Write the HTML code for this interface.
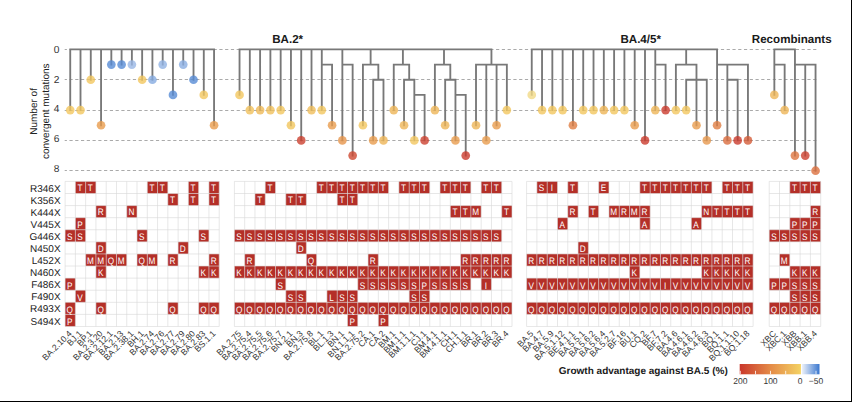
<!DOCTYPE html>
<html><head><meta charset="utf-8"><style>
html,body{margin:0;padding:0;background:#fff;}
body{width:852px;height:402px;overflow:hidden;}
svg{display:block;font-family:"Liberation Sans", sans-serif;text-rendering:geometricPrecision;}
</style></head><body>
<svg width="852" height="402" viewBox="0 0 852 402">
<rect x="0" y="0" width="852" height="402" fill="#fff"/>
<line x1="64.7" y1="49.5" x2="816.6" y2="49.5" stroke="#aaaaaa" stroke-width="1" stroke-dasharray="3.2 2.565" stroke-dashoffset="1"/>
<line x1="64.7" y1="79.5" x2="816.6" y2="79.5" stroke="#aaaaaa" stroke-width="1" stroke-dasharray="3.2 2.565" stroke-dashoffset="1"/>
<line x1="64.7" y1="110.5" x2="816.6" y2="110.5" stroke="#aaaaaa" stroke-width="1" stroke-dasharray="3.2 2.565" stroke-dashoffset="1"/>
<line x1="64.7" y1="140.5" x2="816.6" y2="140.5" stroke="#aaaaaa" stroke-width="1" stroke-dasharray="3.2 2.565" stroke-dashoffset="1"/>
<line x1="64.7" y1="170.5" x2="816.6" y2="170.5" stroke="#aaaaaa" stroke-width="1" stroke-dasharray="3.2 2.565" stroke-dashoffset="1"/>
<text x="59.4" y="53.05" font-size="10.2" text-anchor="end" fill="#333">0</text>
<text x="59.4" y="82.69" font-size="10.2" text-anchor="end" fill="#333">2</text>
<text x="59.4" y="112.33" font-size="10.2" text-anchor="end" fill="#333">4</text>
<text x="59.4" y="141.97" font-size="10.2" text-anchor="end" fill="#333">6</text>
<text x="59.4" y="171.61" font-size="10.2" text-anchor="end" fill="#333">8</text>
<text transform="translate(37.2,111.4) rotate(-90)" font-size="10" text-anchor="middle" fill="#222">Number of</text>
<text transform="translate(48.5,111.2) rotate(-90)" font-size="10" text-anchor="middle" fill="#222">convergent mutations</text>
<text x="272.2" y="42.6" font-size="11.6" font-weight="bold" fill="#1a1a1a">BA.2*</text>
<text x="620.4" y="42.6" font-size="11.6" font-weight="bold" fill="#1a1a1a">BA.4/5*</text>
<text x="751.8" y="42.6" font-size="11.6" font-weight="bold" fill="#1a1a1a">Recombinants</text>
<path d="M70.24 49.44L214.06 49.44M70.24 49.44L70.24 110.08M80.51 49.44L80.51 110.08M90.78 49.44L90.78 79.76M101.06 49.44L101.06 125.24M111.33 49.44L111.33 64.60M121.60 49.44L121.60 64.60M131.88 49.44L131.88 64.60M142.15 49.44L142.15 79.76M152.42 49.44L152.42 79.76M162.70 49.44L162.70 64.60M172.97 49.44L172.97 94.92M183.24 49.44L183.24 64.60M193.52 49.44L193.52 79.76M203.79 49.44L203.79 94.92M214.06 49.44L214.06 125.24M239.54 49.44L491.44 49.44M239.54 49.44L239.54 94.92M249.82 49.44L249.82 110.08M260.10 49.44L260.10 110.08M270.39 49.44L270.39 110.08M280.67 49.44L280.67 110.08M290.95 49.44L290.95 125.24M301.23 49.44L301.23 140.40M311.51 49.44L311.51 110.08M321.79 49.44L321.79 110.08M321.79 64.60L332.07 64.60M332.07 64.60L332.07 125.24M342.36 49.44L342.36 140.40M342.36 64.60L352.64 64.60M352.64 64.60L352.64 155.56M370.63 49.44L370.63 64.60M362.92 64.60L378.34 64.60M362.92 64.60L362.92 125.24M378.34 64.60L378.34 79.76M373.20 79.76L383.48 79.76M373.20 79.76L373.20 140.40M383.48 79.76L383.48 140.40M402.90 49.44L402.90 64.60M393.76 64.60L409.19 64.60M393.76 64.60L393.76 110.08M409.19 64.60L409.19 79.76M404.04 79.76L414.33 79.76M404.04 79.76L404.04 125.24M414.33 79.76L414.33 140.40M414.33 94.92L424.61 94.92M424.61 94.92L424.61 140.40M444.00 49.44L444.00 64.60M434.89 64.60L450.31 64.60M434.89 64.60L434.89 110.08M450.31 64.60L450.31 79.76M445.17 79.76L455.45 79.76M445.17 79.76L445.17 125.24M455.45 79.76L455.45 140.40M455.45 94.92L465.73 94.92M465.73 94.92L465.73 155.56M491.44 49.44L491.44 64.60M476.01 64.60L506.86 64.60M476.01 64.60L476.01 125.24M486.30 64.60L486.30 140.40M496.58 64.60L496.58 125.24M506.86 64.60L506.86 110.08M531.75 49.44L717.07 49.44M531.75 49.44L531.75 94.92M542.04 49.44L542.04 110.08M552.34 49.44L552.34 110.08M562.63 49.44L562.63 110.08M572.93 49.44L572.93 125.24M583.23 49.44L583.23 110.08M593.52 49.44L593.52 110.08M603.82 49.44L603.82 110.08M614.11 49.44L614.11 110.08M624.41 49.44L624.41 110.08M634.70 49.44L634.70 125.24M645.00 49.44L645.00 140.40M655.29 49.44L655.29 110.08M655.29 64.60L665.59 64.60M665.59 64.60L665.59 110.08M686.18 49.44L686.18 64.60M675.88 64.60L696.48 64.60M675.88 64.60L675.88 110.08M696.48 64.60L696.48 125.24M686.18 79.76L706.77 79.76M686.18 79.76L686.18 110.08M706.77 79.76L706.77 140.40M717.07 49.44L717.07 125.24M717.07 64.60L747.95 64.60M727.36 64.60L727.36 140.40M727.36 79.76L737.66 79.76M737.66 79.76L737.66 140.40M747.95 64.60L747.95 140.40M774.35 49.44L794.95 49.44M774.35 49.44L774.35 94.92M774.35 64.60L784.65 64.60M784.65 64.60L784.65 110.08M794.95 49.44L794.95 155.56M794.95 64.60L815.55 64.60M805.25 64.60L805.25 155.56M815.55 64.60L815.55 170.72" stroke="#787878" stroke-width="1.85" fill="none" stroke-linecap="square"/>
<circle cx="70.24" cy="110.08" r="4.35" fill="#f2c75f" fill-opacity="0.8"/>
<circle cx="80.51" cy="110.08" r="4.35" fill="#f2c75f" fill-opacity="0.8"/>
<circle cx="90.78" cy="79.76" r="4.35" fill="#f2c75f" fill-opacity="0.8"/>
<circle cx="101.06" cy="125.24" r="4.35" fill="#e89c4e" fill-opacity="0.8"/>
<circle cx="111.33" cy="64.60" r="4.35" fill="#588cd6" fill-opacity="0.8"/>
<circle cx="121.60" cy="64.60" r="4.35" fill="#588cd6" fill-opacity="0.8"/>
<circle cx="131.88" cy="64.60" r="4.35" fill="#98b7e5" fill-opacity="0.8"/>
<circle cx="142.15" cy="79.76" r="4.35" fill="#f2c75f" fill-opacity="0.8"/>
<circle cx="152.42" cy="79.76" r="4.35" fill="#86abe1" fill-opacity="0.8"/>
<circle cx="162.70" cy="64.60" r="4.35" fill="#91b3e4" fill-opacity="0.8"/>
<circle cx="172.97" cy="94.92" r="4.35" fill="#588cd6" fill-opacity="0.8"/>
<circle cx="183.24" cy="64.60" r="4.35" fill="#8aaee2" fill-opacity="0.8"/>
<circle cx="193.52" cy="79.76" r="4.35" fill="#588cd6" fill-opacity="0.8"/>
<circle cx="203.79" cy="94.92" r="4.35" fill="#f2c75f" fill-opacity="0.8"/>
<circle cx="214.06" cy="125.24" r="4.35" fill="#e89c4e" fill-opacity="0.8"/>
<circle cx="239.54" cy="94.92" r="4.35" fill="#f2c75f" fill-opacity="0.8"/>
<circle cx="249.82" cy="110.08" r="4.35" fill="#f0c05c" fill-opacity="0.8"/>
<circle cx="260.10" cy="110.08" r="4.35" fill="#eeb959" fill-opacity="0.8"/>
<circle cx="270.39" cy="110.08" r="4.35" fill="#f0c05c" fill-opacity="0.8"/>
<circle cx="280.67" cy="110.08" r="4.35" fill="#f2c75f" fill-opacity="0.8"/>
<circle cx="290.95" cy="125.24" r="4.35" fill="#f1c55e" fill-opacity="0.8"/>
<circle cx="301.23" cy="140.40" r="4.35" fill="#cc412f" fill-opacity="0.8"/>
<circle cx="311.51" cy="110.08" r="4.35" fill="#f0be5b" fill-opacity="0.8"/>
<circle cx="321.79" cy="110.08" r="4.35" fill="#f2c75f" fill-opacity="0.8"/>
<circle cx="332.07" cy="125.24" r="4.35" fill="#e89c4e" fill-opacity="0.8"/>
<circle cx="342.36" cy="140.40" r="4.35" fill="#e6954b" fill-opacity="0.8"/>
<circle cx="352.64" cy="155.56" r="4.35" fill="#ce4831" fill-opacity="0.8"/>
<circle cx="362.92" cy="125.24" r="4.35" fill="#f2c75f" fill-opacity="0.8"/>
<circle cx="373.20" cy="140.40" r="4.35" fill="#e89c4e" fill-opacity="0.8"/>
<circle cx="383.48" cy="140.40" r="4.35" fill="#eeb558" fill-opacity="0.8"/>
<circle cx="393.76" cy="110.08" r="4.35" fill="#eeb558" fill-opacity="0.8"/>
<circle cx="404.04" cy="125.24" r="4.35" fill="#eeb558" fill-opacity="0.8"/>
<circle cx="414.33" cy="140.40" r="4.35" fill="#f2c75f" fill-opacity="0.8"/>
<circle cx="424.61" cy="140.40" r="4.35" fill="#cc412f" fill-opacity="0.8"/>
<circle cx="434.89" cy="110.08" r="4.35" fill="#eeb558" fill-opacity="0.8"/>
<circle cx="445.17" cy="125.24" r="4.35" fill="#eeb558" fill-opacity="0.8"/>
<circle cx="455.45" cy="140.40" r="4.35" fill="#e89c4e" fill-opacity="0.8"/>
<circle cx="465.73" cy="155.56" r="4.35" fill="#ca3b2d" fill-opacity="0.8"/>
<circle cx="476.01" cy="125.24" r="4.35" fill="#eeb558" fill-opacity="0.8"/>
<circle cx="486.30" cy="140.40" r="4.35" fill="#e89c4e" fill-opacity="0.8"/>
<circle cx="496.58" cy="125.24" r="4.35" fill="#e89c4e" fill-opacity="0.8"/>
<circle cx="506.86" cy="110.08" r="4.35" fill="#f2c75f" fill-opacity="0.8"/>
<circle cx="531.75" cy="94.92" r="4.35" fill="#f1d987" fill-opacity="0.8"/>
<circle cx="542.04" cy="110.08" r="4.35" fill="#f2c75f" fill-opacity="0.8"/>
<circle cx="552.34" cy="110.08" r="4.35" fill="#f2c75f" fill-opacity="0.8"/>
<circle cx="562.63" cy="110.08" r="4.35" fill="#f2c75f" fill-opacity="0.8"/>
<circle cx="572.93" cy="125.24" r="4.35" fill="#e07e43" fill-opacity="0.8"/>
<circle cx="583.23" cy="110.08" r="4.35" fill="#f2c75f" fill-opacity="0.8"/>
<circle cx="593.52" cy="110.08" r="4.35" fill="#f2c75f" fill-opacity="0.8"/>
<circle cx="603.82" cy="110.08" r="4.35" fill="#eeb558" fill-opacity="0.8"/>
<circle cx="614.11" cy="110.08" r="4.35" fill="#f2c75f" fill-opacity="0.8"/>
<circle cx="624.41" cy="110.08" r="4.35" fill="#f2c75f" fill-opacity="0.8"/>
<circle cx="634.70" cy="125.24" r="4.35" fill="#e89c4e" fill-opacity="0.8"/>
<circle cx="645.00" cy="140.40" r="4.35" fill="#ca3b2d" fill-opacity="0.8"/>
<circle cx="655.29" cy="110.08" r="4.35" fill="#eeb558" fill-opacity="0.8"/>
<circle cx="665.59" cy="110.08" r="4.35" fill="#ca3b2d" fill-opacity="0.8"/>
<circle cx="675.88" cy="110.08" r="4.35" fill="#f2c75f" fill-opacity="0.8"/>
<circle cx="686.18" cy="110.08" r="4.35" fill="#f2c75f" fill-opacity="0.8"/>
<circle cx="696.48" cy="125.24" r="4.35" fill="#e89c4e" fill-opacity="0.8"/>
<circle cx="706.77" cy="140.40" r="4.35" fill="#e7984d" fill-opacity="0.8"/>
<circle cx="717.07" cy="125.24" r="4.35" fill="#e07e43" fill-opacity="0.8"/>
<circle cx="727.36" cy="140.40" r="4.35" fill="#db6d3e" fill-opacity="0.8"/>
<circle cx="737.66" cy="140.40" r="4.35" fill="#ca3b2d" fill-opacity="0.8"/>
<circle cx="747.95" cy="140.40" r="4.35" fill="#d55c38" fill-opacity="0.8"/>
<circle cx="774.35" cy="94.92" r="4.35" fill="#eeb558" fill-opacity="0.8"/>
<circle cx="784.65" cy="110.08" r="4.35" fill="#eeb558" fill-opacity="0.8"/>
<circle cx="794.95" cy="155.56" r="4.35" fill="#dd7540" fill-opacity="0.8"/>
<circle cx="805.25" cy="155.56" r="4.35" fill="#cc412f" fill-opacity="0.8"/>
<circle cx="815.55" cy="170.72" r="4.35" fill="#dc713f" fill-opacity="0.8"/>
<rect x="75.37" y="181.40" width="10.27" height="12.09" fill="#b42f28"/>
<rect x="85.65" y="181.40" width="10.27" height="12.09" fill="#b42f28"/>
<rect x="147.29" y="181.40" width="10.27" height="12.09" fill="#b42f28"/>
<rect x="157.56" y="181.40" width="10.27" height="12.09" fill="#b42f28"/>
<rect x="188.38" y="181.40" width="10.27" height="12.09" fill="#b42f28"/>
<rect x="208.93" y="181.40" width="10.27" height="12.09" fill="#b42f28"/>
<rect x="167.83" y="193.49" width="10.27" height="12.09" fill="#b42f28"/>
<rect x="188.38" y="193.49" width="10.27" height="12.09" fill="#b42f28"/>
<rect x="208.93" y="193.49" width="10.27" height="12.09" fill="#b42f28"/>
<rect x="95.92" y="205.58" width="10.27" height="12.09" fill="#b42f28"/>
<rect x="126.74" y="205.58" width="10.27" height="12.09" fill="#b42f28"/>
<rect x="75.37" y="217.67" width="10.27" height="12.09" fill="#b42f28"/>
<rect x="65.10" y="229.76" width="10.27" height="12.09" fill="#b42f28"/>
<rect x="75.37" y="229.76" width="10.27" height="12.09" fill="#b42f28"/>
<rect x="137.01" y="229.76" width="10.27" height="12.09" fill="#b42f28"/>
<rect x="198.65" y="229.76" width="10.27" height="12.09" fill="#b42f28"/>
<rect x="95.92" y="241.85" width="10.27" height="12.09" fill="#b42f28"/>
<rect x="178.11" y="241.85" width="10.27" height="12.09" fill="#b42f28"/>
<rect x="85.65" y="253.94" width="10.27" height="12.09" fill="#b42f28"/>
<rect x="95.92" y="253.94" width="10.27" height="12.09" fill="#b42f28"/>
<rect x="106.19" y="253.94" width="10.27" height="12.09" fill="#b42f28"/>
<rect x="116.47" y="253.94" width="10.27" height="12.09" fill="#b42f28"/>
<rect x="137.01" y="253.94" width="10.27" height="12.09" fill="#b42f28"/>
<rect x="147.29" y="253.94" width="10.27" height="12.09" fill="#b42f28"/>
<rect x="167.83" y="253.94" width="10.27" height="12.09" fill="#b42f28"/>
<rect x="208.93" y="253.94" width="10.27" height="12.09" fill="#b42f28"/>
<rect x="95.92" y="266.03" width="10.27" height="12.09" fill="#b42f28"/>
<rect x="198.65" y="266.03" width="10.27" height="12.09" fill="#b42f28"/>
<rect x="208.93" y="266.03" width="10.27" height="12.09" fill="#b42f28"/>
<rect x="65.10" y="278.12" width="10.27" height="12.09" fill="#b42f28"/>
<rect x="75.37" y="290.21" width="10.27" height="12.09" fill="#b42f28"/>
<rect x="65.10" y="302.30" width="10.27" height="12.09" fill="#b42f28"/>
<rect x="95.92" y="302.30" width="10.27" height="12.09" fill="#b42f28"/>
<rect x="167.83" y="302.30" width="10.27" height="12.09" fill="#b42f28"/>
<rect x="198.65" y="302.30" width="10.27" height="12.09" fill="#b42f28"/>
<rect x="208.93" y="302.30" width="10.27" height="12.09" fill="#b42f28"/>
<rect x="65.10" y="314.39" width="10.27" height="12.09" fill="#b42f28"/>
<path d="M65.10 181.40V326.48M75.37 181.40V326.48M85.65 181.40V326.48M95.92 181.40V326.48M106.19 181.40V326.48M116.47 181.40V326.48M126.74 181.40V326.48M137.01 181.40V326.48M147.29 181.40V326.48M157.56 181.40V326.48M167.83 181.40V326.48M178.11 181.40V326.48M188.38 181.40V326.48M198.65 181.40V326.48M208.93 181.40V326.48M219.20 181.40V326.48M65.10 181.40H219.20M65.10 193.49H219.20M65.10 205.58H219.20M65.10 217.67H219.20M65.10 229.76H219.20M65.10 241.85H219.20M65.10 253.94H219.20M65.10 266.03H219.20M65.10 278.12H219.20M65.10 290.21H219.20M65.10 302.30H219.20M65.10 314.39H219.20M65.10 326.48H219.20" stroke="#d6d6d6" stroke-opacity="0.75" stroke-width="0.8" fill="none"/>
<text transform="translate(80.06,190.90) scale(0.87,1)" font-size="9.45" text-anchor="middle" fill="#fff">T</text>
<text transform="translate(90.33,190.90) scale(0.87,1)" font-size="9.45" text-anchor="middle" fill="#fff">T</text>
<text transform="translate(151.97,190.90) scale(0.87,1)" font-size="9.45" text-anchor="middle" fill="#fff">T</text>
<text transform="translate(162.25,190.90) scale(0.87,1)" font-size="9.45" text-anchor="middle" fill="#fff">T</text>
<text transform="translate(193.07,190.90) scale(0.87,1)" font-size="9.45" text-anchor="middle" fill="#fff">T</text>
<text transform="translate(213.61,190.90) scale(0.87,1)" font-size="9.45" text-anchor="middle" fill="#fff">T</text>
<text transform="translate(172.52,203.12) scale(0.87,1)" font-size="9.45" text-anchor="middle" fill="#fff">T</text>
<text transform="translate(193.07,203.12) scale(0.87,1)" font-size="9.45" text-anchor="middle" fill="#fff">T</text>
<text transform="translate(213.61,203.12) scale(0.87,1)" font-size="9.45" text-anchor="middle" fill="#fff">T</text>
<text transform="translate(100.61,215.34) scale(0.87,1)" font-size="9.45" text-anchor="middle" fill="#fff">R</text>
<text transform="translate(131.43,215.34) scale(0.87,1)" font-size="9.45" text-anchor="middle" fill="#fff">N</text>
<text transform="translate(80.06,227.56) scale(0.87,1)" font-size="9.45" text-anchor="middle" fill="#fff">P</text>
<text transform="translate(69.79,239.78) scale(0.87,1)" font-size="9.45" text-anchor="middle" fill="#fff">S</text>
<text transform="translate(80.06,239.78) scale(0.87,1)" font-size="9.45" text-anchor="middle" fill="#fff">S</text>
<text transform="translate(141.70,239.78) scale(0.87,1)" font-size="9.45" text-anchor="middle" fill="#fff">S</text>
<text transform="translate(203.34,239.78) scale(0.87,1)" font-size="9.45" text-anchor="middle" fill="#fff">S</text>
<text transform="translate(100.61,252.00) scale(0.87,1)" font-size="9.45" text-anchor="middle" fill="#fff">D</text>
<text transform="translate(182.79,252.00) scale(0.87,1)" font-size="9.45" text-anchor="middle" fill="#fff">D</text>
<text transform="translate(90.33,264.22) scale(0.87,1)" font-size="9.45" text-anchor="middle" fill="#fff">M</text>
<text transform="translate(100.61,264.22) scale(0.87,1)" font-size="9.45" text-anchor="middle" fill="#fff">M</text>
<text transform="translate(110.88,264.22) scale(0.87,1)" font-size="9.45" text-anchor="middle" fill="#fff">Q</text>
<text transform="translate(121.15,264.22) scale(0.87,1)" font-size="9.45" text-anchor="middle" fill="#fff">M</text>
<text transform="translate(141.70,264.22) scale(0.87,1)" font-size="9.45" text-anchor="middle" fill="#fff">Q</text>
<text transform="translate(151.97,264.22) scale(0.87,1)" font-size="9.45" text-anchor="middle" fill="#fff">M</text>
<text transform="translate(172.52,264.22) scale(0.87,1)" font-size="9.45" text-anchor="middle" fill="#fff">R</text>
<text transform="translate(213.61,264.22) scale(0.87,1)" font-size="9.45" text-anchor="middle" fill="#fff">R</text>
<text transform="translate(100.61,276.44) scale(0.87,1)" font-size="9.45" text-anchor="middle" fill="#fff">K</text>
<text transform="translate(203.34,276.44) scale(0.87,1)" font-size="9.45" text-anchor="middle" fill="#fff">K</text>
<text transform="translate(213.61,276.44) scale(0.87,1)" font-size="9.45" text-anchor="middle" fill="#fff">K</text>
<text transform="translate(69.79,288.66) scale(0.87,1)" font-size="9.45" text-anchor="middle" fill="#fff">P</text>
<text transform="translate(80.06,300.88) scale(0.87,1)" font-size="9.45" text-anchor="middle" fill="#fff">V</text>
<text transform="translate(69.79,313.10) scale(0.87,1)" font-size="9.45" text-anchor="middle" fill="#fff">Q</text>
<text transform="translate(100.61,313.10) scale(0.87,1)" font-size="9.45" text-anchor="middle" fill="#fff">Q</text>
<text transform="translate(172.52,313.10) scale(0.87,1)" font-size="9.45" text-anchor="middle" fill="#fff">Q</text>
<text transform="translate(203.34,313.10) scale(0.87,1)" font-size="9.45" text-anchor="middle" fill="#fff">Q</text>
<text transform="translate(213.61,313.10) scale(0.87,1)" font-size="9.45" text-anchor="middle" fill="#fff">Q</text>
<text transform="translate(69.79,325.32) scale(0.87,1)" font-size="9.45" text-anchor="middle" fill="#fff">P</text>
<rect x="265.24" y="181.40" width="10.28" height="12.09" fill="#b42f28"/>
<rect x="316.65" y="181.40" width="10.28" height="12.09" fill="#b42f28"/>
<rect x="326.93" y="181.40" width="10.28" height="12.09" fill="#b42f28"/>
<rect x="337.21" y="181.40" width="10.28" height="12.09" fill="#b42f28"/>
<rect x="347.50" y="181.40" width="10.28" height="12.09" fill="#b42f28"/>
<rect x="357.78" y="181.40" width="10.28" height="12.09" fill="#b42f28"/>
<rect x="368.06" y="181.40" width="10.28" height="12.09" fill="#b42f28"/>
<rect x="378.34" y="181.40" width="10.28" height="12.09" fill="#b42f28"/>
<rect x="398.90" y="181.40" width="10.28" height="12.09" fill="#b42f28"/>
<rect x="409.19" y="181.40" width="10.28" height="12.09" fill="#b42f28"/>
<rect x="419.47" y="181.40" width="10.28" height="12.09" fill="#b42f28"/>
<rect x="440.03" y="181.40" width="10.28" height="12.09" fill="#b42f28"/>
<rect x="450.31" y="181.40" width="10.28" height="12.09" fill="#b42f28"/>
<rect x="460.59" y="181.40" width="10.28" height="12.09" fill="#b42f28"/>
<rect x="481.16" y="181.40" width="10.28" height="12.09" fill="#b42f28"/>
<rect x="491.44" y="181.40" width="10.28" height="12.09" fill="#b42f28"/>
<rect x="254.96" y="193.49" width="10.28" height="12.09" fill="#b42f28"/>
<rect x="285.81" y="193.49" width="10.28" height="12.09" fill="#b42f28"/>
<rect x="296.09" y="193.49" width="10.28" height="12.09" fill="#b42f28"/>
<rect x="337.21" y="193.49" width="10.28" height="12.09" fill="#b42f28"/>
<rect x="347.50" y="193.49" width="10.28" height="12.09" fill="#b42f28"/>
<rect x="450.31" y="205.58" width="10.28" height="12.09" fill="#b42f28"/>
<rect x="460.59" y="205.58" width="10.28" height="12.09" fill="#b42f28"/>
<rect x="470.87" y="205.58" width="10.28" height="12.09" fill="#b42f28"/>
<rect x="501.72" y="205.58" width="10.28" height="12.09" fill="#b42f28"/>
<rect x="234.40" y="229.76" width="10.28" height="12.09" fill="#b42f28"/>
<rect x="244.68" y="229.76" width="10.28" height="12.09" fill="#b42f28"/>
<rect x="254.96" y="229.76" width="10.28" height="12.09" fill="#b42f28"/>
<rect x="265.24" y="229.76" width="10.28" height="12.09" fill="#b42f28"/>
<rect x="275.53" y="229.76" width="10.28" height="12.09" fill="#b42f28"/>
<rect x="285.81" y="229.76" width="10.28" height="12.09" fill="#b42f28"/>
<rect x="296.09" y="229.76" width="10.28" height="12.09" fill="#b42f28"/>
<rect x="306.37" y="229.76" width="10.28" height="12.09" fill="#b42f28"/>
<rect x="316.65" y="229.76" width="10.28" height="12.09" fill="#b42f28"/>
<rect x="326.93" y="229.76" width="10.28" height="12.09" fill="#b42f28"/>
<rect x="337.21" y="229.76" width="10.28" height="12.09" fill="#b42f28"/>
<rect x="347.50" y="229.76" width="10.28" height="12.09" fill="#b42f28"/>
<rect x="357.78" y="229.76" width="10.28" height="12.09" fill="#b42f28"/>
<rect x="368.06" y="229.76" width="10.28" height="12.09" fill="#b42f28"/>
<rect x="378.34" y="229.76" width="10.28" height="12.09" fill="#b42f28"/>
<rect x="388.62" y="229.76" width="10.28" height="12.09" fill="#b42f28"/>
<rect x="398.90" y="229.76" width="10.28" height="12.09" fill="#b42f28"/>
<rect x="409.19" y="229.76" width="10.28" height="12.09" fill="#b42f28"/>
<rect x="419.47" y="229.76" width="10.28" height="12.09" fill="#b42f28"/>
<rect x="429.75" y="229.76" width="10.28" height="12.09" fill="#b42f28"/>
<rect x="440.03" y="229.76" width="10.28" height="12.09" fill="#b42f28"/>
<rect x="450.31" y="229.76" width="10.28" height="12.09" fill="#b42f28"/>
<rect x="460.59" y="229.76" width="10.28" height="12.09" fill="#b42f28"/>
<rect x="470.87" y="229.76" width="10.28" height="12.09" fill="#b42f28"/>
<rect x="481.16" y="229.76" width="10.28" height="12.09" fill="#b42f28"/>
<rect x="491.44" y="229.76" width="10.28" height="12.09" fill="#b42f28"/>
<rect x="296.09" y="241.85" width="10.28" height="12.09" fill="#b42f28"/>
<rect x="244.68" y="253.94" width="10.28" height="12.09" fill="#b42f28"/>
<rect x="306.37" y="253.94" width="10.28" height="12.09" fill="#b42f28"/>
<rect x="368.06" y="253.94" width="10.28" height="12.09" fill="#b42f28"/>
<rect x="460.59" y="253.94" width="10.28" height="12.09" fill="#b42f28"/>
<rect x="470.87" y="253.94" width="10.28" height="12.09" fill="#b42f28"/>
<rect x="481.16" y="253.94" width="10.28" height="12.09" fill="#b42f28"/>
<rect x="491.44" y="253.94" width="10.28" height="12.09" fill="#b42f28"/>
<rect x="501.72" y="253.94" width="10.28" height="12.09" fill="#b42f28"/>
<rect x="234.40" y="266.03" width="10.28" height="12.09" fill="#b42f28"/>
<rect x="244.68" y="266.03" width="10.28" height="12.09" fill="#b42f28"/>
<rect x="254.96" y="266.03" width="10.28" height="12.09" fill="#b42f28"/>
<rect x="265.24" y="266.03" width="10.28" height="12.09" fill="#b42f28"/>
<rect x="275.53" y="266.03" width="10.28" height="12.09" fill="#b42f28"/>
<rect x="285.81" y="266.03" width="10.28" height="12.09" fill="#b42f28"/>
<rect x="296.09" y="266.03" width="10.28" height="12.09" fill="#b42f28"/>
<rect x="306.37" y="266.03" width="10.28" height="12.09" fill="#b42f28"/>
<rect x="316.65" y="266.03" width="10.28" height="12.09" fill="#b42f28"/>
<rect x="326.93" y="266.03" width="10.28" height="12.09" fill="#b42f28"/>
<rect x="337.21" y="266.03" width="10.28" height="12.09" fill="#b42f28"/>
<rect x="347.50" y="266.03" width="10.28" height="12.09" fill="#b42f28"/>
<rect x="357.78" y="266.03" width="10.28" height="12.09" fill="#b42f28"/>
<rect x="368.06" y="266.03" width="10.28" height="12.09" fill="#b42f28"/>
<rect x="378.34" y="266.03" width="10.28" height="12.09" fill="#b42f28"/>
<rect x="388.62" y="266.03" width="10.28" height="12.09" fill="#b42f28"/>
<rect x="398.90" y="266.03" width="10.28" height="12.09" fill="#b42f28"/>
<rect x="409.19" y="266.03" width="10.28" height="12.09" fill="#b42f28"/>
<rect x="419.47" y="266.03" width="10.28" height="12.09" fill="#b42f28"/>
<rect x="429.75" y="266.03" width="10.28" height="12.09" fill="#b42f28"/>
<rect x="440.03" y="266.03" width="10.28" height="12.09" fill="#b42f28"/>
<rect x="450.31" y="266.03" width="10.28" height="12.09" fill="#b42f28"/>
<rect x="460.59" y="266.03" width="10.28" height="12.09" fill="#b42f28"/>
<rect x="470.87" y="266.03" width="10.28" height="12.09" fill="#b42f28"/>
<rect x="481.16" y="266.03" width="10.28" height="12.09" fill="#b42f28"/>
<rect x="491.44" y="266.03" width="10.28" height="12.09" fill="#b42f28"/>
<rect x="501.72" y="266.03" width="10.28" height="12.09" fill="#b42f28"/>
<rect x="275.53" y="278.12" width="10.28" height="12.09" fill="#b42f28"/>
<rect x="357.78" y="278.12" width="10.28" height="12.09" fill="#b42f28"/>
<rect x="368.06" y="278.12" width="10.28" height="12.09" fill="#b42f28"/>
<rect x="378.34" y="278.12" width="10.28" height="12.09" fill="#b42f28"/>
<rect x="388.62" y="278.12" width="10.28" height="12.09" fill="#b42f28"/>
<rect x="398.90" y="278.12" width="10.28" height="12.09" fill="#b42f28"/>
<rect x="409.19" y="278.12" width="10.28" height="12.09" fill="#b42f28"/>
<rect x="429.75" y="278.12" width="10.28" height="12.09" fill="#b42f28"/>
<rect x="440.03" y="278.12" width="10.28" height="12.09" fill="#b42f28"/>
<rect x="450.31" y="278.12" width="10.28" height="12.09" fill="#b42f28"/>
<rect x="460.59" y="278.12" width="10.28" height="12.09" fill="#b42f28"/>
<rect x="419.47" y="278.12" width="10.28" height="12.09" fill="#b42f28"/>
<rect x="481.16" y="278.12" width="10.28" height="12.09" fill="#b42f28"/>
<rect x="285.81" y="290.21" width="10.28" height="12.09" fill="#b42f28"/>
<rect x="296.09" y="290.21" width="10.28" height="12.09" fill="#b42f28"/>
<rect x="326.93" y="290.21" width="10.28" height="12.09" fill="#b42f28"/>
<rect x="337.21" y="290.21" width="10.28" height="12.09" fill="#b42f28"/>
<rect x="347.50" y="290.21" width="10.28" height="12.09" fill="#b42f28"/>
<rect x="409.19" y="290.21" width="10.28" height="12.09" fill="#b42f28"/>
<rect x="419.47" y="290.21" width="10.28" height="12.09" fill="#b42f28"/>
<rect x="234.40" y="302.30" width="10.28" height="12.09" fill="#b42f28"/>
<rect x="244.68" y="302.30" width="10.28" height="12.09" fill="#b42f28"/>
<rect x="254.96" y="302.30" width="10.28" height="12.09" fill="#b42f28"/>
<rect x="265.24" y="302.30" width="10.28" height="12.09" fill="#b42f28"/>
<rect x="275.53" y="302.30" width="10.28" height="12.09" fill="#b42f28"/>
<rect x="285.81" y="302.30" width="10.28" height="12.09" fill="#b42f28"/>
<rect x="296.09" y="302.30" width="10.28" height="12.09" fill="#b42f28"/>
<rect x="306.37" y="302.30" width="10.28" height="12.09" fill="#b42f28"/>
<rect x="316.65" y="302.30" width="10.28" height="12.09" fill="#b42f28"/>
<rect x="326.93" y="302.30" width="10.28" height="12.09" fill="#b42f28"/>
<rect x="337.21" y="302.30" width="10.28" height="12.09" fill="#b42f28"/>
<rect x="347.50" y="302.30" width="10.28" height="12.09" fill="#b42f28"/>
<rect x="357.78" y="302.30" width="10.28" height="12.09" fill="#b42f28"/>
<rect x="368.06" y="302.30" width="10.28" height="12.09" fill="#b42f28"/>
<rect x="378.34" y="302.30" width="10.28" height="12.09" fill="#b42f28"/>
<rect x="388.62" y="302.30" width="10.28" height="12.09" fill="#b42f28"/>
<rect x="398.90" y="302.30" width="10.28" height="12.09" fill="#b42f28"/>
<rect x="409.19" y="302.30" width="10.28" height="12.09" fill="#b42f28"/>
<rect x="419.47" y="302.30" width="10.28" height="12.09" fill="#b42f28"/>
<rect x="429.75" y="302.30" width="10.28" height="12.09" fill="#b42f28"/>
<rect x="440.03" y="302.30" width="10.28" height="12.09" fill="#b42f28"/>
<rect x="450.31" y="302.30" width="10.28" height="12.09" fill="#b42f28"/>
<rect x="460.59" y="302.30" width="10.28" height="12.09" fill="#b42f28"/>
<rect x="470.87" y="302.30" width="10.28" height="12.09" fill="#b42f28"/>
<rect x="481.16" y="302.30" width="10.28" height="12.09" fill="#b42f28"/>
<rect x="491.44" y="302.30" width="10.28" height="12.09" fill="#b42f28"/>
<rect x="501.72" y="302.30" width="10.28" height="12.09" fill="#b42f28"/>
<rect x="347.50" y="314.39" width="10.28" height="12.09" fill="#b42f28"/>
<rect x="378.34" y="314.39" width="10.28" height="12.09" fill="#b42f28"/>
<path d="M234.40 181.40V326.48M244.68 181.40V326.48M254.96 181.40V326.48M265.24 181.40V326.48M275.53 181.40V326.48M285.81 181.40V326.48M296.09 181.40V326.48M306.37 181.40V326.48M316.65 181.40V326.48M326.93 181.40V326.48M337.21 181.40V326.48M347.50 181.40V326.48M357.78 181.40V326.48M368.06 181.40V326.48M378.34 181.40V326.48M388.62 181.40V326.48M398.90 181.40V326.48M409.19 181.40V326.48M419.47 181.40V326.48M429.75 181.40V326.48M440.03 181.40V326.48M450.31 181.40V326.48M460.59 181.40V326.48M470.87 181.40V326.48M481.16 181.40V326.48M491.44 181.40V326.48M501.72 181.40V326.48M512.00 181.40V326.48M234.40 181.40H512.00M234.40 193.49H512.00M234.40 205.58H512.00M234.40 217.67H512.00M234.40 229.76H512.00M234.40 241.85H512.00M234.40 253.94H512.00M234.40 266.03H512.00M234.40 278.12H512.00M234.40 290.21H512.00M234.40 302.30H512.00M234.40 314.39H512.00M234.40 326.48H512.00" stroke="#d6d6d6" stroke-opacity="0.75" stroke-width="0.8" fill="none"/>
<text transform="translate(269.94,190.90) scale(0.87,1)" font-size="9.45" text-anchor="middle" fill="#fff">T</text>
<text transform="translate(321.34,190.90) scale(0.87,1)" font-size="9.45" text-anchor="middle" fill="#fff">T</text>
<text transform="translate(331.62,190.90) scale(0.87,1)" font-size="9.45" text-anchor="middle" fill="#fff">T</text>
<text transform="translate(341.91,190.90) scale(0.87,1)" font-size="9.45" text-anchor="middle" fill="#fff">T</text>
<text transform="translate(352.19,190.90) scale(0.87,1)" font-size="9.45" text-anchor="middle" fill="#fff">T</text>
<text transform="translate(362.47,190.90) scale(0.87,1)" font-size="9.45" text-anchor="middle" fill="#fff">T</text>
<text transform="translate(372.75,190.90) scale(0.87,1)" font-size="9.45" text-anchor="middle" fill="#fff">T</text>
<text transform="translate(383.03,190.90) scale(0.87,1)" font-size="9.45" text-anchor="middle" fill="#fff">T</text>
<text transform="translate(403.59,190.90) scale(0.87,1)" font-size="9.45" text-anchor="middle" fill="#fff">T</text>
<text transform="translate(413.88,190.90) scale(0.87,1)" font-size="9.45" text-anchor="middle" fill="#fff">T</text>
<text transform="translate(424.16,190.90) scale(0.87,1)" font-size="9.45" text-anchor="middle" fill="#fff">T</text>
<text transform="translate(444.72,190.90) scale(0.87,1)" font-size="9.45" text-anchor="middle" fill="#fff">T</text>
<text transform="translate(455.00,190.90) scale(0.87,1)" font-size="9.45" text-anchor="middle" fill="#fff">T</text>
<text transform="translate(465.28,190.90) scale(0.87,1)" font-size="9.45" text-anchor="middle" fill="#fff">T</text>
<text transform="translate(485.85,190.90) scale(0.87,1)" font-size="9.45" text-anchor="middle" fill="#fff">T</text>
<text transform="translate(496.13,190.90) scale(0.87,1)" font-size="9.45" text-anchor="middle" fill="#fff">T</text>
<text transform="translate(259.65,203.12) scale(0.87,1)" font-size="9.45" text-anchor="middle" fill="#fff">T</text>
<text transform="translate(290.50,203.12) scale(0.87,1)" font-size="9.45" text-anchor="middle" fill="#fff">T</text>
<text transform="translate(300.78,203.12) scale(0.87,1)" font-size="9.45" text-anchor="middle" fill="#fff">T</text>
<text transform="translate(341.91,203.12) scale(0.87,1)" font-size="9.45" text-anchor="middle" fill="#fff">T</text>
<text transform="translate(352.19,203.12) scale(0.87,1)" font-size="9.45" text-anchor="middle" fill="#fff">T</text>
<text transform="translate(455.00,215.34) scale(0.87,1)" font-size="9.45" text-anchor="middle" fill="#fff">T</text>
<text transform="translate(465.28,215.34) scale(0.87,1)" font-size="9.45" text-anchor="middle" fill="#fff">T</text>
<text transform="translate(475.56,215.34) scale(0.87,1)" font-size="9.45" text-anchor="middle" fill="#fff">M</text>
<text transform="translate(506.41,215.34) scale(0.87,1)" font-size="9.45" text-anchor="middle" fill="#fff">T</text>
<text transform="translate(239.09,239.78) scale(0.87,1)" font-size="9.45" text-anchor="middle" fill="#fff">S</text>
<text transform="translate(249.37,239.78) scale(0.87,1)" font-size="9.45" text-anchor="middle" fill="#fff">S</text>
<text transform="translate(259.65,239.78) scale(0.87,1)" font-size="9.45" text-anchor="middle" fill="#fff">S</text>
<text transform="translate(269.94,239.78) scale(0.87,1)" font-size="9.45" text-anchor="middle" fill="#fff">S</text>
<text transform="translate(280.22,239.78) scale(0.87,1)" font-size="9.45" text-anchor="middle" fill="#fff">S</text>
<text transform="translate(290.50,239.78) scale(0.87,1)" font-size="9.45" text-anchor="middle" fill="#fff">S</text>
<text transform="translate(300.78,239.78) scale(0.87,1)" font-size="9.45" text-anchor="middle" fill="#fff">S</text>
<text transform="translate(311.06,239.78) scale(0.87,1)" font-size="9.45" text-anchor="middle" fill="#fff">S</text>
<text transform="translate(321.34,239.78) scale(0.87,1)" font-size="9.45" text-anchor="middle" fill="#fff">S</text>
<text transform="translate(331.62,239.78) scale(0.87,1)" font-size="9.45" text-anchor="middle" fill="#fff">S</text>
<text transform="translate(341.91,239.78) scale(0.87,1)" font-size="9.45" text-anchor="middle" fill="#fff">S</text>
<text transform="translate(352.19,239.78) scale(0.87,1)" font-size="9.45" text-anchor="middle" fill="#fff">S</text>
<text transform="translate(362.47,239.78) scale(0.87,1)" font-size="9.45" text-anchor="middle" fill="#fff">S</text>
<text transform="translate(372.75,239.78) scale(0.87,1)" font-size="9.45" text-anchor="middle" fill="#fff">S</text>
<text transform="translate(383.03,239.78) scale(0.87,1)" font-size="9.45" text-anchor="middle" fill="#fff">S</text>
<text transform="translate(393.31,239.78) scale(0.87,1)" font-size="9.45" text-anchor="middle" fill="#fff">S</text>
<text transform="translate(403.59,239.78) scale(0.87,1)" font-size="9.45" text-anchor="middle" fill="#fff">S</text>
<text transform="translate(413.88,239.78) scale(0.87,1)" font-size="9.45" text-anchor="middle" fill="#fff">S</text>
<text transform="translate(424.16,239.78) scale(0.87,1)" font-size="9.45" text-anchor="middle" fill="#fff">S</text>
<text transform="translate(434.44,239.78) scale(0.87,1)" font-size="9.45" text-anchor="middle" fill="#fff">S</text>
<text transform="translate(444.72,239.78) scale(0.87,1)" font-size="9.45" text-anchor="middle" fill="#fff">S</text>
<text transform="translate(455.00,239.78) scale(0.87,1)" font-size="9.45" text-anchor="middle" fill="#fff">S</text>
<text transform="translate(465.28,239.78) scale(0.87,1)" font-size="9.45" text-anchor="middle" fill="#fff">S</text>
<text transform="translate(475.56,239.78) scale(0.87,1)" font-size="9.45" text-anchor="middle" fill="#fff">S</text>
<text transform="translate(485.85,239.78) scale(0.87,1)" font-size="9.45" text-anchor="middle" fill="#fff">S</text>
<text transform="translate(496.13,239.78) scale(0.87,1)" font-size="9.45" text-anchor="middle" fill="#fff">S</text>
<text transform="translate(300.78,252.00) scale(0.87,1)" font-size="9.45" text-anchor="middle" fill="#fff">D</text>
<text transform="translate(249.37,264.22) scale(0.87,1)" font-size="9.45" text-anchor="middle" fill="#fff">R</text>
<text transform="translate(311.06,264.22) scale(0.87,1)" font-size="9.45" text-anchor="middle" fill="#fff">Q</text>
<text transform="translate(372.75,264.22) scale(0.87,1)" font-size="9.45" text-anchor="middle" fill="#fff">R</text>
<text transform="translate(465.28,264.22) scale(0.87,1)" font-size="9.45" text-anchor="middle" fill="#fff">R</text>
<text transform="translate(475.56,264.22) scale(0.87,1)" font-size="9.45" text-anchor="middle" fill="#fff">R</text>
<text transform="translate(485.85,264.22) scale(0.87,1)" font-size="9.45" text-anchor="middle" fill="#fff">R</text>
<text transform="translate(496.13,264.22) scale(0.87,1)" font-size="9.45" text-anchor="middle" fill="#fff">R</text>
<text transform="translate(506.41,264.22) scale(0.87,1)" font-size="9.45" text-anchor="middle" fill="#fff">R</text>
<text transform="translate(239.09,276.44) scale(0.87,1)" font-size="9.45" text-anchor="middle" fill="#fff">K</text>
<text transform="translate(249.37,276.44) scale(0.87,1)" font-size="9.45" text-anchor="middle" fill="#fff">K</text>
<text transform="translate(259.65,276.44) scale(0.87,1)" font-size="9.45" text-anchor="middle" fill="#fff">K</text>
<text transform="translate(269.94,276.44) scale(0.87,1)" font-size="9.45" text-anchor="middle" fill="#fff">K</text>
<text transform="translate(280.22,276.44) scale(0.87,1)" font-size="9.45" text-anchor="middle" fill="#fff">K</text>
<text transform="translate(290.50,276.44) scale(0.87,1)" font-size="9.45" text-anchor="middle" fill="#fff">K</text>
<text transform="translate(300.78,276.44) scale(0.87,1)" font-size="9.45" text-anchor="middle" fill="#fff">K</text>
<text transform="translate(311.06,276.44) scale(0.87,1)" font-size="9.45" text-anchor="middle" fill="#fff">K</text>
<text transform="translate(321.34,276.44) scale(0.87,1)" font-size="9.45" text-anchor="middle" fill="#fff">K</text>
<text transform="translate(331.62,276.44) scale(0.87,1)" font-size="9.45" text-anchor="middle" fill="#fff">K</text>
<text transform="translate(341.91,276.44) scale(0.87,1)" font-size="9.45" text-anchor="middle" fill="#fff">K</text>
<text transform="translate(352.19,276.44) scale(0.87,1)" font-size="9.45" text-anchor="middle" fill="#fff">K</text>
<text transform="translate(362.47,276.44) scale(0.87,1)" font-size="9.45" text-anchor="middle" fill="#fff">K</text>
<text transform="translate(372.75,276.44) scale(0.87,1)" font-size="9.45" text-anchor="middle" fill="#fff">K</text>
<text transform="translate(383.03,276.44) scale(0.87,1)" font-size="9.45" text-anchor="middle" fill="#fff">K</text>
<text transform="translate(393.31,276.44) scale(0.87,1)" font-size="9.45" text-anchor="middle" fill="#fff">K</text>
<text transform="translate(403.59,276.44) scale(0.87,1)" font-size="9.45" text-anchor="middle" fill="#fff">K</text>
<text transform="translate(413.88,276.44) scale(0.87,1)" font-size="9.45" text-anchor="middle" fill="#fff">K</text>
<text transform="translate(424.16,276.44) scale(0.87,1)" font-size="9.45" text-anchor="middle" fill="#fff">K</text>
<text transform="translate(434.44,276.44) scale(0.87,1)" font-size="9.45" text-anchor="middle" fill="#fff">K</text>
<text transform="translate(444.72,276.44) scale(0.87,1)" font-size="9.45" text-anchor="middle" fill="#fff">K</text>
<text transform="translate(455.00,276.44) scale(0.87,1)" font-size="9.45" text-anchor="middle" fill="#fff">K</text>
<text transform="translate(465.28,276.44) scale(0.87,1)" font-size="9.45" text-anchor="middle" fill="#fff">K</text>
<text transform="translate(475.56,276.44) scale(0.87,1)" font-size="9.45" text-anchor="middle" fill="#fff">K</text>
<text transform="translate(485.85,276.44) scale(0.87,1)" font-size="9.45" text-anchor="middle" fill="#fff">K</text>
<text transform="translate(496.13,276.44) scale(0.87,1)" font-size="9.45" text-anchor="middle" fill="#fff">K</text>
<text transform="translate(506.41,276.44) scale(0.87,1)" font-size="9.45" text-anchor="middle" fill="#fff">K</text>
<text transform="translate(280.22,288.66) scale(0.87,1)" font-size="9.45" text-anchor="middle" fill="#fff">S</text>
<text transform="translate(362.47,288.66) scale(0.87,1)" font-size="9.45" text-anchor="middle" fill="#fff">S</text>
<text transform="translate(372.75,288.66) scale(0.87,1)" font-size="9.45" text-anchor="middle" fill="#fff">S</text>
<text transform="translate(383.03,288.66) scale(0.87,1)" font-size="9.45" text-anchor="middle" fill="#fff">S</text>
<text transform="translate(393.31,288.66) scale(0.87,1)" font-size="9.45" text-anchor="middle" fill="#fff">S</text>
<text transform="translate(403.59,288.66) scale(0.87,1)" font-size="9.45" text-anchor="middle" fill="#fff">S</text>
<text transform="translate(413.88,288.66) scale(0.87,1)" font-size="9.45" text-anchor="middle" fill="#fff">S</text>
<text transform="translate(434.44,288.66) scale(0.87,1)" font-size="9.45" text-anchor="middle" fill="#fff">S</text>
<text transform="translate(444.72,288.66) scale(0.87,1)" font-size="9.45" text-anchor="middle" fill="#fff">S</text>
<text transform="translate(455.00,288.66) scale(0.87,1)" font-size="9.45" text-anchor="middle" fill="#fff">S</text>
<text transform="translate(465.28,288.66) scale(0.87,1)" font-size="9.45" text-anchor="middle" fill="#fff">S</text>
<text transform="translate(424.16,288.66) scale(0.87,1)" font-size="9.45" text-anchor="middle" fill="#fff">P</text>
<text transform="translate(485.85,288.66) scale(0.87,1)" font-size="9.45" text-anchor="middle" fill="#fff">I</text>
<text transform="translate(290.50,300.88) scale(0.87,1)" font-size="9.45" text-anchor="middle" fill="#fff">S</text>
<text transform="translate(300.78,300.88) scale(0.87,1)" font-size="9.45" text-anchor="middle" fill="#fff">S</text>
<text transform="translate(331.62,300.88) scale(0.87,1)" font-size="9.45" text-anchor="middle" fill="#fff">L</text>
<text transform="translate(341.91,300.88) scale(0.87,1)" font-size="9.45" text-anchor="middle" fill="#fff">S</text>
<text transform="translate(352.19,300.88) scale(0.87,1)" font-size="9.45" text-anchor="middle" fill="#fff">S</text>
<text transform="translate(413.88,300.88) scale(0.87,1)" font-size="9.45" text-anchor="middle" fill="#fff">S</text>
<text transform="translate(424.16,300.88) scale(0.87,1)" font-size="9.45" text-anchor="middle" fill="#fff">S</text>
<text transform="translate(239.09,313.10) scale(0.87,1)" font-size="9.45" text-anchor="middle" fill="#fff">Q</text>
<text transform="translate(249.37,313.10) scale(0.87,1)" font-size="9.45" text-anchor="middle" fill="#fff">Q</text>
<text transform="translate(259.65,313.10) scale(0.87,1)" font-size="9.45" text-anchor="middle" fill="#fff">Q</text>
<text transform="translate(269.94,313.10) scale(0.87,1)" font-size="9.45" text-anchor="middle" fill="#fff">Q</text>
<text transform="translate(280.22,313.10) scale(0.87,1)" font-size="9.45" text-anchor="middle" fill="#fff">Q</text>
<text transform="translate(290.50,313.10) scale(0.87,1)" font-size="9.45" text-anchor="middle" fill="#fff">Q</text>
<text transform="translate(300.78,313.10) scale(0.87,1)" font-size="9.45" text-anchor="middle" fill="#fff">Q</text>
<text transform="translate(311.06,313.10) scale(0.87,1)" font-size="9.45" text-anchor="middle" fill="#fff">Q</text>
<text transform="translate(321.34,313.10) scale(0.87,1)" font-size="9.45" text-anchor="middle" fill="#fff">Q</text>
<text transform="translate(331.62,313.10) scale(0.87,1)" font-size="9.45" text-anchor="middle" fill="#fff">Q</text>
<text transform="translate(341.91,313.10) scale(0.87,1)" font-size="9.45" text-anchor="middle" fill="#fff">Q</text>
<text transform="translate(352.19,313.10) scale(0.87,1)" font-size="9.45" text-anchor="middle" fill="#fff">Q</text>
<text transform="translate(362.47,313.10) scale(0.87,1)" font-size="9.45" text-anchor="middle" fill="#fff">Q</text>
<text transform="translate(372.75,313.10) scale(0.87,1)" font-size="9.45" text-anchor="middle" fill="#fff">Q</text>
<text transform="translate(383.03,313.10) scale(0.87,1)" font-size="9.45" text-anchor="middle" fill="#fff">Q</text>
<text transform="translate(393.31,313.10) scale(0.87,1)" font-size="9.45" text-anchor="middle" fill="#fff">Q</text>
<text transform="translate(403.59,313.10) scale(0.87,1)" font-size="9.45" text-anchor="middle" fill="#fff">Q</text>
<text transform="translate(413.88,313.10) scale(0.87,1)" font-size="9.45" text-anchor="middle" fill="#fff">Q</text>
<text transform="translate(424.16,313.10) scale(0.87,1)" font-size="9.45" text-anchor="middle" fill="#fff">Q</text>
<text transform="translate(434.44,313.10) scale(0.87,1)" font-size="9.45" text-anchor="middle" fill="#fff">Q</text>
<text transform="translate(444.72,313.10) scale(0.87,1)" font-size="9.45" text-anchor="middle" fill="#fff">Q</text>
<text transform="translate(455.00,313.10) scale(0.87,1)" font-size="9.45" text-anchor="middle" fill="#fff">Q</text>
<text transform="translate(465.28,313.10) scale(0.87,1)" font-size="9.45" text-anchor="middle" fill="#fff">Q</text>
<text transform="translate(475.56,313.10) scale(0.87,1)" font-size="9.45" text-anchor="middle" fill="#fff">Q</text>
<text transform="translate(485.85,313.10) scale(0.87,1)" font-size="9.45" text-anchor="middle" fill="#fff">Q</text>
<text transform="translate(496.13,313.10) scale(0.87,1)" font-size="9.45" text-anchor="middle" fill="#fff">Q</text>
<text transform="translate(506.41,313.10) scale(0.87,1)" font-size="9.45" text-anchor="middle" fill="#fff">Q</text>
<text transform="translate(352.19,325.32) scale(0.87,1)" font-size="9.45" text-anchor="middle" fill="#fff">P</text>
<text transform="translate(383.03,325.32) scale(0.87,1)" font-size="9.45" text-anchor="middle" fill="#fff">P</text>
<rect x="536.90" y="181.40" width="10.30" height="12.09" fill="#b42f28"/>
<rect x="547.19" y="181.40" width="10.30" height="12.09" fill="#b42f28"/>
<rect x="567.78" y="181.40" width="10.30" height="12.09" fill="#b42f28"/>
<rect x="598.67" y="181.40" width="10.30" height="12.09" fill="#b42f28"/>
<rect x="639.85" y="181.40" width="10.30" height="12.09" fill="#b42f28"/>
<rect x="650.15" y="181.40" width="10.30" height="12.09" fill="#b42f28"/>
<rect x="660.44" y="181.40" width="10.30" height="12.09" fill="#b42f28"/>
<rect x="670.74" y="181.40" width="10.30" height="12.09" fill="#b42f28"/>
<rect x="681.03" y="181.40" width="10.30" height="12.09" fill="#b42f28"/>
<rect x="691.33" y="181.40" width="10.30" height="12.09" fill="#b42f28"/>
<rect x="701.62" y="181.40" width="10.30" height="12.09" fill="#b42f28"/>
<rect x="722.21" y="181.40" width="10.30" height="12.09" fill="#b42f28"/>
<rect x="732.51" y="181.40" width="10.30" height="12.09" fill="#b42f28"/>
<rect x="742.80" y="181.40" width="10.30" height="12.09" fill="#b42f28"/>
<rect x="567.78" y="205.58" width="10.30" height="12.09" fill="#b42f28"/>
<rect x="588.37" y="205.58" width="10.30" height="12.09" fill="#b42f28"/>
<rect x="608.96" y="205.58" width="10.30" height="12.09" fill="#b42f28"/>
<rect x="619.26" y="205.58" width="10.30" height="12.09" fill="#b42f28"/>
<rect x="629.55" y="205.58" width="10.30" height="12.09" fill="#b42f28"/>
<rect x="639.85" y="205.58" width="10.30" height="12.09" fill="#b42f28"/>
<rect x="701.62" y="205.58" width="10.30" height="12.09" fill="#b42f28"/>
<rect x="711.92" y="205.58" width="10.30" height="12.09" fill="#b42f28"/>
<rect x="722.21" y="205.58" width="10.30" height="12.09" fill="#b42f28"/>
<rect x="732.51" y="205.58" width="10.30" height="12.09" fill="#b42f28"/>
<rect x="742.80" y="205.58" width="10.30" height="12.09" fill="#b42f28"/>
<rect x="557.49" y="217.67" width="10.30" height="12.09" fill="#b42f28"/>
<rect x="639.85" y="217.67" width="10.30" height="12.09" fill="#b42f28"/>
<rect x="691.33" y="217.67" width="10.30" height="12.09" fill="#b42f28"/>
<rect x="578.08" y="241.85" width="10.30" height="12.09" fill="#b42f28"/>
<rect x="526.60" y="253.94" width="10.30" height="12.09" fill="#b42f28"/>
<rect x="536.90" y="253.94" width="10.30" height="12.09" fill="#b42f28"/>
<rect x="547.19" y="253.94" width="10.30" height="12.09" fill="#b42f28"/>
<rect x="557.49" y="253.94" width="10.30" height="12.09" fill="#b42f28"/>
<rect x="567.78" y="253.94" width="10.30" height="12.09" fill="#b42f28"/>
<rect x="578.08" y="253.94" width="10.30" height="12.09" fill="#b42f28"/>
<rect x="588.37" y="253.94" width="10.30" height="12.09" fill="#b42f28"/>
<rect x="598.67" y="253.94" width="10.30" height="12.09" fill="#b42f28"/>
<rect x="608.96" y="253.94" width="10.30" height="12.09" fill="#b42f28"/>
<rect x="619.26" y="253.94" width="10.30" height="12.09" fill="#b42f28"/>
<rect x="629.55" y="253.94" width="10.30" height="12.09" fill="#b42f28"/>
<rect x="639.85" y="253.94" width="10.30" height="12.09" fill="#b42f28"/>
<rect x="650.15" y="253.94" width="10.30" height="12.09" fill="#b42f28"/>
<rect x="660.44" y="253.94" width="10.30" height="12.09" fill="#b42f28"/>
<rect x="670.74" y="253.94" width="10.30" height="12.09" fill="#b42f28"/>
<rect x="681.03" y="253.94" width="10.30" height="12.09" fill="#b42f28"/>
<rect x="691.33" y="253.94" width="10.30" height="12.09" fill="#b42f28"/>
<rect x="701.62" y="253.94" width="10.30" height="12.09" fill="#b42f28"/>
<rect x="711.92" y="253.94" width="10.30" height="12.09" fill="#b42f28"/>
<rect x="722.21" y="253.94" width="10.30" height="12.09" fill="#b42f28"/>
<rect x="732.51" y="253.94" width="10.30" height="12.09" fill="#b42f28"/>
<rect x="742.80" y="253.94" width="10.30" height="12.09" fill="#b42f28"/>
<rect x="629.55" y="266.03" width="10.30" height="12.09" fill="#b42f28"/>
<rect x="701.62" y="266.03" width="10.30" height="12.09" fill="#b42f28"/>
<rect x="711.92" y="266.03" width="10.30" height="12.09" fill="#b42f28"/>
<rect x="722.21" y="266.03" width="10.30" height="12.09" fill="#b42f28"/>
<rect x="732.51" y="266.03" width="10.30" height="12.09" fill="#b42f28"/>
<rect x="742.80" y="266.03" width="10.30" height="12.09" fill="#b42f28"/>
<rect x="526.60" y="278.12" width="10.30" height="12.09" fill="#b42f28"/>
<rect x="536.90" y="278.12" width="10.30" height="12.09" fill="#b42f28"/>
<rect x="547.19" y="278.12" width="10.30" height="12.09" fill="#b42f28"/>
<rect x="557.49" y="278.12" width="10.30" height="12.09" fill="#b42f28"/>
<rect x="567.78" y="278.12" width="10.30" height="12.09" fill="#b42f28"/>
<rect x="578.08" y="278.12" width="10.30" height="12.09" fill="#b42f28"/>
<rect x="588.37" y="278.12" width="10.30" height="12.09" fill="#b42f28"/>
<rect x="598.67" y="278.12" width="10.30" height="12.09" fill="#b42f28"/>
<rect x="608.96" y="278.12" width="10.30" height="12.09" fill="#b42f28"/>
<rect x="619.26" y="278.12" width="10.30" height="12.09" fill="#b42f28"/>
<rect x="629.55" y="278.12" width="10.30" height="12.09" fill="#b42f28"/>
<rect x="639.85" y="278.12" width="10.30" height="12.09" fill="#b42f28"/>
<rect x="650.15" y="278.12" width="10.30" height="12.09" fill="#b42f28"/>
<rect x="660.44" y="278.12" width="10.30" height="12.09" fill="#b42f28"/>
<rect x="670.74" y="278.12" width="10.30" height="12.09" fill="#b42f28"/>
<rect x="681.03" y="278.12" width="10.30" height="12.09" fill="#b42f28"/>
<rect x="691.33" y="278.12" width="10.30" height="12.09" fill="#b42f28"/>
<rect x="701.62" y="278.12" width="10.30" height="12.09" fill="#b42f28"/>
<rect x="711.92" y="278.12" width="10.30" height="12.09" fill="#b42f28"/>
<rect x="722.21" y="278.12" width="10.30" height="12.09" fill="#b42f28"/>
<rect x="732.51" y="278.12" width="10.30" height="12.09" fill="#b42f28"/>
<rect x="742.80" y="278.12" width="10.30" height="12.09" fill="#b42f28"/>
<rect x="526.60" y="302.30" width="10.30" height="12.09" fill="#b42f28"/>
<rect x="536.90" y="302.30" width="10.30" height="12.09" fill="#b42f28"/>
<rect x="547.19" y="302.30" width="10.30" height="12.09" fill="#b42f28"/>
<rect x="557.49" y="302.30" width="10.30" height="12.09" fill="#b42f28"/>
<rect x="567.78" y="302.30" width="10.30" height="12.09" fill="#b42f28"/>
<rect x="578.08" y="302.30" width="10.30" height="12.09" fill="#b42f28"/>
<rect x="588.37" y="302.30" width="10.30" height="12.09" fill="#b42f28"/>
<rect x="598.67" y="302.30" width="10.30" height="12.09" fill="#b42f28"/>
<rect x="608.96" y="302.30" width="10.30" height="12.09" fill="#b42f28"/>
<rect x="619.26" y="302.30" width="10.30" height="12.09" fill="#b42f28"/>
<rect x="629.55" y="302.30" width="10.30" height="12.09" fill="#b42f28"/>
<rect x="639.85" y="302.30" width="10.30" height="12.09" fill="#b42f28"/>
<rect x="650.15" y="302.30" width="10.30" height="12.09" fill="#b42f28"/>
<rect x="660.44" y="302.30" width="10.30" height="12.09" fill="#b42f28"/>
<rect x="670.74" y="302.30" width="10.30" height="12.09" fill="#b42f28"/>
<rect x="681.03" y="302.30" width="10.30" height="12.09" fill="#b42f28"/>
<rect x="691.33" y="302.30" width="10.30" height="12.09" fill="#b42f28"/>
<rect x="701.62" y="302.30" width="10.30" height="12.09" fill="#b42f28"/>
<rect x="711.92" y="302.30" width="10.30" height="12.09" fill="#b42f28"/>
<rect x="722.21" y="302.30" width="10.30" height="12.09" fill="#b42f28"/>
<rect x="732.51" y="302.30" width="10.30" height="12.09" fill="#b42f28"/>
<rect x="742.80" y="302.30" width="10.30" height="12.09" fill="#b42f28"/>
<path d="M526.60 181.40V326.48M536.90 181.40V326.48M547.19 181.40V326.48M557.49 181.40V326.48M567.78 181.40V326.48M578.08 181.40V326.48M588.37 181.40V326.48M598.67 181.40V326.48M608.96 181.40V326.48M619.26 181.40V326.48M629.55 181.40V326.48M639.85 181.40V326.48M650.15 181.40V326.48M660.44 181.40V326.48M670.74 181.40V326.48M681.03 181.40V326.48M691.33 181.40V326.48M701.62 181.40V326.48M711.92 181.40V326.48M722.21 181.40V326.48M732.51 181.40V326.48M742.80 181.40V326.48M753.10 181.40V326.48M526.60 181.40H753.10M526.60 193.49H753.10M526.60 205.58H753.10M526.60 217.67H753.10M526.60 229.76H753.10M526.60 241.85H753.10M526.60 253.94H753.10M526.60 266.03H753.10M526.60 278.12H753.10M526.60 290.21H753.10M526.60 302.30H753.10M526.60 314.39H753.10M526.60 326.48H753.10" stroke="#d6d6d6" stroke-opacity="0.75" stroke-width="0.8" fill="none"/>
<text transform="translate(541.59,190.90) scale(0.87,1)" font-size="9.45" text-anchor="middle" fill="#fff">S</text>
<text transform="translate(551.89,190.90) scale(0.87,1)" font-size="9.45" text-anchor="middle" fill="#fff">I</text>
<text transform="translate(572.48,190.90) scale(0.87,1)" font-size="9.45" text-anchor="middle" fill="#fff">T</text>
<text transform="translate(603.37,190.90) scale(0.87,1)" font-size="9.45" text-anchor="middle" fill="#fff">E</text>
<text transform="translate(644.55,190.90) scale(0.87,1)" font-size="9.45" text-anchor="middle" fill="#fff">T</text>
<text transform="translate(654.84,190.90) scale(0.87,1)" font-size="9.45" text-anchor="middle" fill="#fff">T</text>
<text transform="translate(665.14,190.90) scale(0.87,1)" font-size="9.45" text-anchor="middle" fill="#fff">T</text>
<text transform="translate(675.43,190.90) scale(0.87,1)" font-size="9.45" text-anchor="middle" fill="#fff">T</text>
<text transform="translate(685.73,190.90) scale(0.87,1)" font-size="9.45" text-anchor="middle" fill="#fff">T</text>
<text transform="translate(696.02,190.90) scale(0.87,1)" font-size="9.45" text-anchor="middle" fill="#fff">T</text>
<text transform="translate(706.32,190.90) scale(0.87,1)" font-size="9.45" text-anchor="middle" fill="#fff">T</text>
<text transform="translate(726.91,190.90) scale(0.87,1)" font-size="9.45" text-anchor="middle" fill="#fff">T</text>
<text transform="translate(737.21,190.90) scale(0.87,1)" font-size="9.45" text-anchor="middle" fill="#fff">T</text>
<text transform="translate(747.50,190.90) scale(0.87,1)" font-size="9.45" text-anchor="middle" fill="#fff">T</text>
<text transform="translate(572.48,215.34) scale(0.87,1)" font-size="9.45" text-anchor="middle" fill="#fff">R</text>
<text transform="translate(593.07,215.34) scale(0.87,1)" font-size="9.45" text-anchor="middle" fill="#fff">T</text>
<text transform="translate(613.66,215.34) scale(0.87,1)" font-size="9.45" text-anchor="middle" fill="#fff">M</text>
<text transform="translate(623.96,215.34) scale(0.87,1)" font-size="9.45" text-anchor="middle" fill="#fff">R</text>
<text transform="translate(634.25,215.34) scale(0.87,1)" font-size="9.45" text-anchor="middle" fill="#fff">M</text>
<text transform="translate(644.55,215.34) scale(0.87,1)" font-size="9.45" text-anchor="middle" fill="#fff">R</text>
<text transform="translate(706.32,215.34) scale(0.87,1)" font-size="9.45" text-anchor="middle" fill="#fff">N</text>
<text transform="translate(716.62,215.34) scale(0.87,1)" font-size="9.45" text-anchor="middle" fill="#fff">T</text>
<text transform="translate(726.91,215.34) scale(0.87,1)" font-size="9.45" text-anchor="middle" fill="#fff">T</text>
<text transform="translate(737.21,215.34) scale(0.87,1)" font-size="9.45" text-anchor="middle" fill="#fff">T</text>
<text transform="translate(747.50,215.34) scale(0.87,1)" font-size="9.45" text-anchor="middle" fill="#fff">T</text>
<text transform="translate(562.18,227.56) scale(0.87,1)" font-size="9.45" text-anchor="middle" fill="#fff">A</text>
<text transform="translate(644.55,227.56) scale(0.87,1)" font-size="9.45" text-anchor="middle" fill="#fff">A</text>
<text transform="translate(696.02,227.56) scale(0.87,1)" font-size="9.45" text-anchor="middle" fill="#fff">A</text>
<text transform="translate(582.77,252.00) scale(0.87,1)" font-size="9.45" text-anchor="middle" fill="#fff">D</text>
<text transform="translate(531.30,264.22) scale(0.87,1)" font-size="9.45" text-anchor="middle" fill="#fff">R</text>
<text transform="translate(541.59,264.22) scale(0.87,1)" font-size="9.45" text-anchor="middle" fill="#fff">R</text>
<text transform="translate(551.89,264.22) scale(0.87,1)" font-size="9.45" text-anchor="middle" fill="#fff">R</text>
<text transform="translate(562.18,264.22) scale(0.87,1)" font-size="9.45" text-anchor="middle" fill="#fff">R</text>
<text transform="translate(572.48,264.22) scale(0.87,1)" font-size="9.45" text-anchor="middle" fill="#fff">R</text>
<text transform="translate(582.77,264.22) scale(0.87,1)" font-size="9.45" text-anchor="middle" fill="#fff">R</text>
<text transform="translate(593.07,264.22) scale(0.87,1)" font-size="9.45" text-anchor="middle" fill="#fff">R</text>
<text transform="translate(603.37,264.22) scale(0.87,1)" font-size="9.45" text-anchor="middle" fill="#fff">R</text>
<text transform="translate(613.66,264.22) scale(0.87,1)" font-size="9.45" text-anchor="middle" fill="#fff">R</text>
<text transform="translate(623.96,264.22) scale(0.87,1)" font-size="9.45" text-anchor="middle" fill="#fff">R</text>
<text transform="translate(634.25,264.22) scale(0.87,1)" font-size="9.45" text-anchor="middle" fill="#fff">R</text>
<text transform="translate(644.55,264.22) scale(0.87,1)" font-size="9.45" text-anchor="middle" fill="#fff">R</text>
<text transform="translate(654.84,264.22) scale(0.87,1)" font-size="9.45" text-anchor="middle" fill="#fff">R</text>
<text transform="translate(665.14,264.22) scale(0.87,1)" font-size="9.45" text-anchor="middle" fill="#fff">R</text>
<text transform="translate(675.43,264.22) scale(0.87,1)" font-size="9.45" text-anchor="middle" fill="#fff">R</text>
<text transform="translate(685.73,264.22) scale(0.87,1)" font-size="9.45" text-anchor="middle" fill="#fff">R</text>
<text transform="translate(696.02,264.22) scale(0.87,1)" font-size="9.45" text-anchor="middle" fill="#fff">R</text>
<text transform="translate(706.32,264.22) scale(0.87,1)" font-size="9.45" text-anchor="middle" fill="#fff">R</text>
<text transform="translate(716.62,264.22) scale(0.87,1)" font-size="9.45" text-anchor="middle" fill="#fff">R</text>
<text transform="translate(726.91,264.22) scale(0.87,1)" font-size="9.45" text-anchor="middle" fill="#fff">R</text>
<text transform="translate(737.21,264.22) scale(0.87,1)" font-size="9.45" text-anchor="middle" fill="#fff">R</text>
<text transform="translate(747.50,264.22) scale(0.87,1)" font-size="9.45" text-anchor="middle" fill="#fff">R</text>
<text transform="translate(634.25,276.44) scale(0.87,1)" font-size="9.45" text-anchor="middle" fill="#fff">K</text>
<text transform="translate(706.32,276.44) scale(0.87,1)" font-size="9.45" text-anchor="middle" fill="#fff">K</text>
<text transform="translate(716.62,276.44) scale(0.87,1)" font-size="9.45" text-anchor="middle" fill="#fff">K</text>
<text transform="translate(726.91,276.44) scale(0.87,1)" font-size="9.45" text-anchor="middle" fill="#fff">K</text>
<text transform="translate(737.21,276.44) scale(0.87,1)" font-size="9.45" text-anchor="middle" fill="#fff">K</text>
<text transform="translate(747.50,276.44) scale(0.87,1)" font-size="9.45" text-anchor="middle" fill="#fff">K</text>
<text transform="translate(531.30,288.66) scale(0.87,1)" font-size="9.45" text-anchor="middle" fill="#fff">V</text>
<text transform="translate(541.59,288.66) scale(0.87,1)" font-size="9.45" text-anchor="middle" fill="#fff">V</text>
<text transform="translate(551.89,288.66) scale(0.87,1)" font-size="9.45" text-anchor="middle" fill="#fff">V</text>
<text transform="translate(562.18,288.66) scale(0.87,1)" font-size="9.45" text-anchor="middle" fill="#fff">V</text>
<text transform="translate(572.48,288.66) scale(0.87,1)" font-size="9.45" text-anchor="middle" fill="#fff">V</text>
<text transform="translate(582.77,288.66) scale(0.87,1)" font-size="9.45" text-anchor="middle" fill="#fff">V</text>
<text transform="translate(593.07,288.66) scale(0.87,1)" font-size="9.45" text-anchor="middle" fill="#fff">V</text>
<text transform="translate(603.37,288.66) scale(0.87,1)" font-size="9.45" text-anchor="middle" fill="#fff">V</text>
<text transform="translate(613.66,288.66) scale(0.87,1)" font-size="9.45" text-anchor="middle" fill="#fff">V</text>
<text transform="translate(623.96,288.66) scale(0.87,1)" font-size="9.45" text-anchor="middle" fill="#fff">V</text>
<text transform="translate(634.25,288.66) scale(0.87,1)" font-size="9.45" text-anchor="middle" fill="#fff">V</text>
<text transform="translate(644.55,288.66) scale(0.87,1)" font-size="9.45" text-anchor="middle" fill="#fff">V</text>
<text transform="translate(654.84,288.66) scale(0.87,1)" font-size="9.45" text-anchor="middle" fill="#fff">V</text>
<text transform="translate(665.14,288.66) scale(0.87,1)" font-size="9.45" text-anchor="middle" fill="#fff">I</text>
<text transform="translate(675.43,288.66) scale(0.87,1)" font-size="9.45" text-anchor="middle" fill="#fff">V</text>
<text transform="translate(685.73,288.66) scale(0.87,1)" font-size="9.45" text-anchor="middle" fill="#fff">V</text>
<text transform="translate(696.02,288.66) scale(0.87,1)" font-size="9.45" text-anchor="middle" fill="#fff">V</text>
<text transform="translate(706.32,288.66) scale(0.87,1)" font-size="9.45" text-anchor="middle" fill="#fff">V</text>
<text transform="translate(716.62,288.66) scale(0.87,1)" font-size="9.45" text-anchor="middle" fill="#fff">V</text>
<text transform="translate(726.91,288.66) scale(0.87,1)" font-size="9.45" text-anchor="middle" fill="#fff">V</text>
<text transform="translate(737.21,288.66) scale(0.87,1)" font-size="9.45" text-anchor="middle" fill="#fff">V</text>
<text transform="translate(747.50,288.66) scale(0.87,1)" font-size="9.45" text-anchor="middle" fill="#fff">V</text>
<text transform="translate(531.30,313.10) scale(0.87,1)" font-size="9.45" text-anchor="middle" fill="#fff">Q</text>
<text transform="translate(541.59,313.10) scale(0.87,1)" font-size="9.45" text-anchor="middle" fill="#fff">Q</text>
<text transform="translate(551.89,313.10) scale(0.87,1)" font-size="9.45" text-anchor="middle" fill="#fff">Q</text>
<text transform="translate(562.18,313.10) scale(0.87,1)" font-size="9.45" text-anchor="middle" fill="#fff">Q</text>
<text transform="translate(572.48,313.10) scale(0.87,1)" font-size="9.45" text-anchor="middle" fill="#fff">Q</text>
<text transform="translate(582.77,313.10) scale(0.87,1)" font-size="9.45" text-anchor="middle" fill="#fff">Q</text>
<text transform="translate(593.07,313.10) scale(0.87,1)" font-size="9.45" text-anchor="middle" fill="#fff">Q</text>
<text transform="translate(603.37,313.10) scale(0.87,1)" font-size="9.45" text-anchor="middle" fill="#fff">Q</text>
<text transform="translate(613.66,313.10) scale(0.87,1)" font-size="9.45" text-anchor="middle" fill="#fff">Q</text>
<text transform="translate(623.96,313.10) scale(0.87,1)" font-size="9.45" text-anchor="middle" fill="#fff">Q</text>
<text transform="translate(634.25,313.10) scale(0.87,1)" font-size="9.45" text-anchor="middle" fill="#fff">Q</text>
<text transform="translate(644.55,313.10) scale(0.87,1)" font-size="9.45" text-anchor="middle" fill="#fff">Q</text>
<text transform="translate(654.84,313.10) scale(0.87,1)" font-size="9.45" text-anchor="middle" fill="#fff">Q</text>
<text transform="translate(665.14,313.10) scale(0.87,1)" font-size="9.45" text-anchor="middle" fill="#fff">Q</text>
<text transform="translate(675.43,313.10) scale(0.87,1)" font-size="9.45" text-anchor="middle" fill="#fff">Q</text>
<text transform="translate(685.73,313.10) scale(0.87,1)" font-size="9.45" text-anchor="middle" fill="#fff">Q</text>
<text transform="translate(696.02,313.10) scale(0.87,1)" font-size="9.45" text-anchor="middle" fill="#fff">Q</text>
<text transform="translate(706.32,313.10) scale(0.87,1)" font-size="9.45" text-anchor="middle" fill="#fff">Q</text>
<text transform="translate(716.62,313.10) scale(0.87,1)" font-size="9.45" text-anchor="middle" fill="#fff">Q</text>
<text transform="translate(726.91,313.10) scale(0.87,1)" font-size="9.45" text-anchor="middle" fill="#fff">Q</text>
<text transform="translate(737.21,313.10) scale(0.87,1)" font-size="9.45" text-anchor="middle" fill="#fff">Q</text>
<text transform="translate(747.50,313.10) scale(0.87,1)" font-size="9.45" text-anchor="middle" fill="#fff">Q</text>
<rect x="789.80" y="181.40" width="10.30" height="12.09" fill="#b42f28"/>
<rect x="800.10" y="181.40" width="10.30" height="12.09" fill="#b42f28"/>
<rect x="810.40" y="181.40" width="10.30" height="12.09" fill="#b42f28"/>
<rect x="810.40" y="205.58" width="10.30" height="12.09" fill="#b42f28"/>
<rect x="789.80" y="217.67" width="10.30" height="12.09" fill="#b42f28"/>
<rect x="800.10" y="217.67" width="10.30" height="12.09" fill="#b42f28"/>
<rect x="810.40" y="217.67" width="10.30" height="12.09" fill="#b42f28"/>
<rect x="769.20" y="229.76" width="10.30" height="12.09" fill="#b42f28"/>
<rect x="779.50" y="229.76" width="10.30" height="12.09" fill="#b42f28"/>
<rect x="789.80" y="229.76" width="10.30" height="12.09" fill="#b42f28"/>
<rect x="800.10" y="229.76" width="10.30" height="12.09" fill="#b42f28"/>
<rect x="810.40" y="229.76" width="10.30" height="12.09" fill="#b42f28"/>
<rect x="779.50" y="253.94" width="10.30" height="12.09" fill="#b42f28"/>
<rect x="789.80" y="266.03" width="10.30" height="12.09" fill="#b42f28"/>
<rect x="800.10" y="266.03" width="10.30" height="12.09" fill="#b42f28"/>
<rect x="810.40" y="266.03" width="10.30" height="12.09" fill="#b42f28"/>
<rect x="769.20" y="278.12" width="10.30" height="12.09" fill="#b42f28"/>
<rect x="779.50" y="278.12" width="10.30" height="12.09" fill="#b42f28"/>
<rect x="789.80" y="278.12" width="10.30" height="12.09" fill="#b42f28"/>
<rect x="800.10" y="278.12" width="10.30" height="12.09" fill="#b42f28"/>
<rect x="810.40" y="278.12" width="10.30" height="12.09" fill="#b42f28"/>
<rect x="789.80" y="290.21" width="10.30" height="12.09" fill="#b42f28"/>
<rect x="800.10" y="290.21" width="10.30" height="12.09" fill="#b42f28"/>
<rect x="810.40" y="290.21" width="10.30" height="12.09" fill="#b42f28"/>
<rect x="769.20" y="302.30" width="10.30" height="12.09" fill="#b42f28"/>
<rect x="779.50" y="302.30" width="10.30" height="12.09" fill="#b42f28"/>
<rect x="789.80" y="302.30" width="10.30" height="12.09" fill="#b42f28"/>
<rect x="800.10" y="302.30" width="10.30" height="12.09" fill="#b42f28"/>
<rect x="810.40" y="302.30" width="10.30" height="12.09" fill="#b42f28"/>
<path d="M769.20 181.40V326.48M779.50 181.40V326.48M789.80 181.40V326.48M800.10 181.40V326.48M810.40 181.40V326.48M820.70 181.40V326.48M769.20 181.40H820.70M769.20 193.49H820.70M769.20 205.58H820.70M769.20 217.67H820.70M769.20 229.76H820.70M769.20 241.85H820.70M769.20 253.94H820.70M769.20 266.03H820.70M769.20 278.12H820.70M769.20 290.21H820.70M769.20 302.30H820.70M769.20 314.39H820.70M769.20 326.48H820.70" stroke="#d6d6d6" stroke-opacity="0.75" stroke-width="0.8" fill="none"/>
<text transform="translate(794.50,190.90) scale(0.87,1)" font-size="9.45" text-anchor="middle" fill="#fff">T</text>
<text transform="translate(804.80,190.90) scale(0.87,1)" font-size="9.45" text-anchor="middle" fill="#fff">T</text>
<text transform="translate(815.10,190.90) scale(0.87,1)" font-size="9.45" text-anchor="middle" fill="#fff">T</text>
<text transform="translate(815.10,215.34) scale(0.87,1)" font-size="9.45" text-anchor="middle" fill="#fff">R</text>
<text transform="translate(794.50,227.56) scale(0.87,1)" font-size="9.45" text-anchor="middle" fill="#fff">P</text>
<text transform="translate(804.80,227.56) scale(0.87,1)" font-size="9.45" text-anchor="middle" fill="#fff">P</text>
<text transform="translate(815.10,227.56) scale(0.87,1)" font-size="9.45" text-anchor="middle" fill="#fff">P</text>
<text transform="translate(773.90,239.78) scale(0.87,1)" font-size="9.45" text-anchor="middle" fill="#fff">S</text>
<text transform="translate(784.20,239.78) scale(0.87,1)" font-size="9.45" text-anchor="middle" fill="#fff">S</text>
<text transform="translate(794.50,239.78) scale(0.87,1)" font-size="9.45" text-anchor="middle" fill="#fff">S</text>
<text transform="translate(804.80,239.78) scale(0.87,1)" font-size="9.45" text-anchor="middle" fill="#fff">S</text>
<text transform="translate(815.10,239.78) scale(0.87,1)" font-size="9.45" text-anchor="middle" fill="#fff">S</text>
<text transform="translate(784.20,264.22) scale(0.87,1)" font-size="9.45" text-anchor="middle" fill="#fff">M</text>
<text transform="translate(794.50,276.44) scale(0.87,1)" font-size="9.45" text-anchor="middle" fill="#fff">K</text>
<text transform="translate(804.80,276.44) scale(0.87,1)" font-size="9.45" text-anchor="middle" fill="#fff">K</text>
<text transform="translate(815.10,276.44) scale(0.87,1)" font-size="9.45" text-anchor="middle" fill="#fff">K</text>
<text transform="translate(773.90,288.66) scale(0.87,1)" font-size="9.45" text-anchor="middle" fill="#fff">P</text>
<text transform="translate(784.20,288.66) scale(0.87,1)" font-size="9.45" text-anchor="middle" fill="#fff">P</text>
<text transform="translate(794.50,288.66) scale(0.87,1)" font-size="9.45" text-anchor="middle" fill="#fff">S</text>
<text transform="translate(804.80,288.66) scale(0.87,1)" font-size="9.45" text-anchor="middle" fill="#fff">S</text>
<text transform="translate(815.10,288.66) scale(0.87,1)" font-size="9.45" text-anchor="middle" fill="#fff">S</text>
<text transform="translate(794.50,300.88) scale(0.87,1)" font-size="9.45" text-anchor="middle" fill="#fff">S</text>
<text transform="translate(804.80,300.88) scale(0.87,1)" font-size="9.45" text-anchor="middle" fill="#fff">S</text>
<text transform="translate(815.10,300.88) scale(0.87,1)" font-size="9.45" text-anchor="middle" fill="#fff">S</text>
<text transform="translate(773.90,313.10) scale(0.87,1)" font-size="9.45" text-anchor="middle" fill="#fff">Q</text>
<text transform="translate(784.20,313.10) scale(0.87,1)" font-size="9.45" text-anchor="middle" fill="#fff">Q</text>
<text transform="translate(794.50,313.10) scale(0.87,1)" font-size="9.45" text-anchor="middle" fill="#fff">Q</text>
<text transform="translate(804.80,313.10) scale(0.87,1)" font-size="9.45" text-anchor="middle" fill="#fff">Q</text>
<text transform="translate(815.10,313.10) scale(0.87,1)" font-size="9.45" text-anchor="middle" fill="#fff">Q</text>
<text x="60.6" y="191.54" font-size="10" text-anchor="end" fill="#222">R346X</text>
<text x="60.6" y="203.63" font-size="10" text-anchor="end" fill="#222">K356X</text>
<text x="60.6" y="215.72" font-size="10" text-anchor="end" fill="#222">K444X</text>
<text x="60.6" y="227.81" font-size="10" text-anchor="end" fill="#222">V445X</text>
<text x="60.6" y="239.90" font-size="10" text-anchor="end" fill="#222">G446X</text>
<text x="60.6" y="252.00" font-size="10" text-anchor="end" fill="#222">N450X</text>
<text x="60.6" y="264.09" font-size="10" text-anchor="end" fill="#222">L452X</text>
<text x="60.6" y="276.18" font-size="10" text-anchor="end" fill="#222">N460X</text>
<text x="60.6" y="288.27" font-size="10" text-anchor="end" fill="#222">F486X</text>
<text x="60.6" y="300.36" font-size="10" text-anchor="end" fill="#222">F490X</text>
<text x="60.6" y="312.45" font-size="10" text-anchor="end" fill="#222">R493X</text>
<text x="60.6" y="324.54" font-size="10" text-anchor="end" fill="#222">S494X</text>
<text transform="translate(68.04,329.80) rotate(-45)" x="0" y="6.2" font-size="8.65" text-anchor="end" fill="#333">BA.2.10.4</text>
<text transform="translate(78.31,329.80) rotate(-45)" x="0" y="6.2" font-size="8.65" text-anchor="end" fill="#333">BJ.1</text>
<text transform="translate(88.58,329.80) rotate(-45)" x="0" y="6.2" font-size="8.65" text-anchor="end" fill="#333">BP.1</text>
<text transform="translate(98.86,329.80) rotate(-45)" x="0" y="6.2" font-size="8.65" text-anchor="end" fill="#333">BA.2.3.20</text>
<text transform="translate(109.13,329.80) rotate(-45)" x="0" y="6.2" font-size="8.65" text-anchor="end" fill="#333">BA.2.12.1</text>
<text transform="translate(119.40,329.80) rotate(-45)" x="0" y="6.2" font-size="8.65" text-anchor="end" fill="#333">BA.2.13</text>
<text transform="translate(129.68,329.80) rotate(-45)" x="0" y="6.2" font-size="8.65" text-anchor="end" fill="#333">BA.2.38.1</text>
<text transform="translate(139.95,329.80) rotate(-45)" x="0" y="6.2" font-size="8.65" text-anchor="end" fill="#333">BH.1</text>
<text transform="translate(150.22,329.80) rotate(-45)" x="0" y="6.2" font-size="8.65" text-anchor="end" fill="#333">BA.2.74</text>
<text transform="translate(160.50,329.80) rotate(-45)" x="0" y="6.2" font-size="8.65" text-anchor="end" fill="#333">BA.2.76</text>
<text transform="translate(170.77,329.80) rotate(-45)" x="0" y="6.2" font-size="8.65" text-anchor="end" fill="#333">BA.2.77</text>
<text transform="translate(181.04,329.80) rotate(-45)" x="0" y="6.2" font-size="8.65" text-anchor="end" fill="#333">BA.2.79</text>
<text transform="translate(191.32,329.80) rotate(-45)" x="0" y="6.2" font-size="8.65" text-anchor="end" fill="#333">BA.2.80</text>
<text transform="translate(201.59,329.80) rotate(-45)" x="0" y="6.2" font-size="8.65" text-anchor="end" fill="#333">BA.2.83</text>
<text transform="translate(211.86,329.80) rotate(-45)" x="0" y="6.2" font-size="8.65" text-anchor="end" fill="#333">BS.1.1</text>
<text transform="translate(237.34,329.80) rotate(-45)" x="0" y="6.2" font-size="8.65" text-anchor="end" fill="#333">BA.2.75</text>
<text transform="translate(247.62,329.80) rotate(-45)" x="0" y="6.2" font-size="8.65" text-anchor="end" fill="#333">BA.2.75.4</text>
<text transform="translate(257.90,329.80) rotate(-45)" x="0" y="6.2" font-size="8.65" text-anchor="end" fill="#333">BA.2.75.5</text>
<text transform="translate(268.19,329.80) rotate(-45)" x="0" y="6.2" font-size="8.65" text-anchor="end" fill="#333">BA.2.75.6</text>
<text transform="translate(278.47,329.80) rotate(-45)" x="0" y="6.2" font-size="8.65" text-anchor="end" fill="#333">BA.2.75.7</text>
<text transform="translate(288.75,329.80) rotate(-45)" x="0" y="6.2" font-size="8.65" text-anchor="end" fill="#333">BN.2.1</text>
<text transform="translate(299.03,329.80) rotate(-45)" x="0" y="6.2" font-size="8.65" text-anchor="end" fill="#333">BN.3</text>
<text transform="translate(309.31,329.80) rotate(-45)" x="0" y="6.2" font-size="8.65" text-anchor="end" fill="#333">BA.2.75.8</text>
<text transform="translate(319.59,329.80) rotate(-45)" x="0" y="6.2" font-size="8.65" text-anchor="end" fill="#333">BL.1</text>
<text transform="translate(329.87,329.80) rotate(-45)" x="0" y="6.2" font-size="8.65" text-anchor="end" fill="#333">BL.1.3</text>
<text transform="translate(340.16,329.80) rotate(-45)" x="0" y="6.2" font-size="8.65" text-anchor="end" fill="#333">BN.1</text>
<text transform="translate(350.44,329.80) rotate(-45)" x="0" y="6.2" font-size="8.65" text-anchor="end" fill="#333">BN.1.1.1</text>
<text transform="translate(360.72,329.80) rotate(-45)" x="0" y="6.2" font-size="8.65" text-anchor="end" fill="#333">BA.2.75.2</text>
<text transform="translate(371.00,329.80) rotate(-45)" x="0" y="6.2" font-size="8.65" text-anchor="end" fill="#333">CA.1</text>
<text transform="translate(381.28,329.80) rotate(-45)" x="0" y="6.2" font-size="8.65" text-anchor="end" fill="#333">CA.2</text>
<text transform="translate(391.56,329.80) rotate(-45)" x="0" y="6.2" font-size="8.65" text-anchor="end" fill="#333">BM.1</text>
<text transform="translate(401.84,329.80) rotate(-45)" x="0" y="6.2" font-size="8.65" text-anchor="end" fill="#333">BM.1.1</text>
<text transform="translate(412.13,329.80) rotate(-45)" x="0" y="6.2" font-size="8.65" text-anchor="end" fill="#333">BM.1.1.1</text>
<text transform="translate(422.41,329.80) rotate(-45)" x="0" y="6.2" font-size="8.65" text-anchor="end" fill="#333">CJ.1</text>
<text transform="translate(432.69,329.80) rotate(-45)" x="0" y="6.2" font-size="8.65" text-anchor="end" fill="#333">BM.4.1</text>
<text transform="translate(442.97,329.80) rotate(-45)" x="0" y="6.2" font-size="8.65" text-anchor="end" fill="#333">BM.4.1.1</text>
<text transform="translate(453.25,329.80) rotate(-45)" x="0" y="6.2" font-size="8.65" text-anchor="end" fill="#333">CH.1</text>
<text transform="translate(463.53,329.80) rotate(-45)" x="0" y="6.2" font-size="8.65" text-anchor="end" fill="#333">CH.1.1</text>
<text transform="translate(473.81,329.80) rotate(-45)" x="0" y="6.2" font-size="8.65" text-anchor="end" fill="#333">BR.1</text>
<text transform="translate(484.10,329.80) rotate(-45)" x="0" y="6.2" font-size="8.65" text-anchor="end" fill="#333">BR.2</text>
<text transform="translate(494.38,329.80) rotate(-45)" x="0" y="6.2" font-size="8.65" text-anchor="end" fill="#333">BR.3</text>
<text transform="translate(504.66,329.80) rotate(-45)" x="0" y="6.2" font-size="8.65" text-anchor="end" fill="#333">BR.4</text>
<text transform="translate(529.55,329.80) rotate(-45)" x="0" y="6.2" font-size="8.65" text-anchor="end" fill="#333">BA.5</text>
<text transform="translate(539.84,329.80) rotate(-45)" x="0" y="6.2" font-size="8.65" text-anchor="end" fill="#333">BA.4.7</text>
<text transform="translate(550.14,329.80) rotate(-45)" x="0" y="6.2" font-size="8.65" text-anchor="end" fill="#333">BA.5.9</text>
<text transform="translate(560.43,329.80) rotate(-45)" x="0" y="6.2" font-size="8.65" text-anchor="end" fill="#333">BA.5.1.12</text>
<text transform="translate(570.73,329.80) rotate(-45)" x="0" y="6.2" font-size="8.65" text-anchor="end" fill="#333">BE.4.1.1</text>
<text transform="translate(581.02,329.80) rotate(-45)" x="0" y="6.2" font-size="8.65" text-anchor="end" fill="#333">BA.5.5.1</text>
<text transform="translate(591.32,329.80) rotate(-45)" x="0" y="6.2" font-size="8.65" text-anchor="end" fill="#333">BA.5.6.2</text>
<text transform="translate(601.62,329.80) rotate(-45)" x="0" y="6.2" font-size="8.65" text-anchor="end" fill="#333">BA.5.6.4</text>
<text transform="translate(611.91,329.80) rotate(-45)" x="0" y="6.2" font-size="8.65" text-anchor="end" fill="#333">BA.5.2.7</text>
<text transform="translate(622.21,329.80) rotate(-45)" x="0" y="6.2" font-size="8.65" text-anchor="end" fill="#333">BF.16</text>
<text transform="translate(632.50,329.80) rotate(-45)" x="0" y="6.2" font-size="8.65" text-anchor="end" fill="#333">BU.1</text>
<text transform="translate(642.80,329.80) rotate(-45)" x="0" y="6.2" font-size="8.65" text-anchor="end" fill="#333">CQ.2</text>
<text transform="translate(653.09,329.80) rotate(-45)" x="0" y="6.2" font-size="8.65" text-anchor="end" fill="#333">BF.7</text>
<text transform="translate(663.39,329.80) rotate(-45)" x="0" y="6.2" font-size="8.65" text-anchor="end" fill="#333">BF.7.2</text>
<text transform="translate(673.68,329.80) rotate(-45)" x="0" y="6.2" font-size="8.65" text-anchor="end" fill="#333">BA.4.6</text>
<text transform="translate(683.98,329.80) rotate(-45)" x="0" y="6.2" font-size="8.65" text-anchor="end" fill="#333">BA.4.6.1</text>
<text transform="translate(694.27,329.80) rotate(-45)" x="0" y="6.2" font-size="8.65" text-anchor="end" fill="#333">BA.4.6.2</text>
<text transform="translate(704.57,329.80) rotate(-45)" x="0" y="6.2" font-size="8.65" text-anchor="end" fill="#333">BA.4.6.3</text>
<text transform="translate(714.87,329.80) rotate(-45)" x="0" y="6.2" font-size="8.65" text-anchor="end" fill="#333">BQ.1</text>
<text transform="translate(725.16,329.80) rotate(-45)" x="0" y="6.2" font-size="8.65" text-anchor="end" fill="#333">BQ.1.1</text>
<text transform="translate(735.46,329.80) rotate(-45)" x="0" y="6.2" font-size="8.65" text-anchor="end" fill="#333">BQ.1.1.10</text>
<text transform="translate(745.75,329.80) rotate(-45)" x="0" y="6.2" font-size="8.65" text-anchor="end" fill="#333">BQ.1.18</text>
<text transform="translate(772.15,329.80) rotate(-45)" x="0" y="6.2" font-size="8.65" text-anchor="end" fill="#333">XBC</text>
<text transform="translate(782.45,329.80) rotate(-45)" x="0" y="6.2" font-size="8.65" text-anchor="end" fill="#333">XBC.1</text>
<text transform="translate(792.75,329.80) rotate(-45)" x="0" y="6.2" font-size="8.65" text-anchor="end" fill="#333">XBB</text>
<text transform="translate(803.05,329.80) rotate(-45)" x="0" y="6.2" font-size="8.65" text-anchor="end" fill="#333">XBB.1</text>
<text transform="translate(813.35,329.80) rotate(-45)" x="0" y="6.2" font-size="8.65" text-anchor="end" fill="#333">XBB.4</text>
<defs><linearGradient id="gr" x1="0" x2="1" y1="0" y2="0"><stop offset="0" stop-color="#c9372c"/><stop offset="0.5" stop-color="#e48a47"/><stop offset="1" stop-color="#f4d263"/></linearGradient><linearGradient id="gb" x1="0" x2="1" y1="0" y2="0"><stop offset="0" stop-color="#eef2fa"/><stop offset="1" stop-color="#3b78cf"/></linearGradient></defs>
<rect x="739.7" y="364" width="61.2" height="10.3" fill="url(#gr)"/>
<rect x="801.9" y="364" width="17.6" height="10.3" fill="url(#gb)"/>
<line x1="740.3" y1="370.8" x2="740.3" y2="374.3" stroke="#fff" stroke-width="0.9" stroke-opacity="0.9"/>
<line x1="755.5" y1="370.8" x2="755.5" y2="374.3" stroke="#fff" stroke-width="0.9" stroke-opacity="0.9"/>
<line x1="770.5" y1="370.8" x2="770.5" y2="374.3" stroke="#fff" stroke-width="0.9" stroke-opacity="0.9"/>
<line x1="785.7" y1="370.8" x2="785.7" y2="374.3" stroke="#fff" stroke-width="0.9" stroke-opacity="0.9"/>
<line x1="816" y1="370.8" x2="816" y2="374.3" stroke="#fff" stroke-width="0.9" stroke-opacity="0.9"/>
<text x="558.8" y="374.3" font-size="10" font-weight="bold" fill="#1a1a1a">Growth advantage against BA.5 (%)</text>
<text x="740.3" y="384.0" font-size="8.5" text-anchor="middle" fill="#333">200</text>
<text x="770.5" y="384.0" font-size="8.5" text-anchor="middle" fill="#333">100</text>
<text x="800.2" y="384.0" font-size="8.5" text-anchor="middle" fill="#333">0</text>
<text x="816" y="384.0" font-size="8.5" text-anchor="middle" fill="#333">−50</text>
<rect x="851" y="0" width="1" height="402" fill="#000"/>
<rect x="0" y="401" width="852" height="1" fill="#000"/>
</svg>
</body></html>
